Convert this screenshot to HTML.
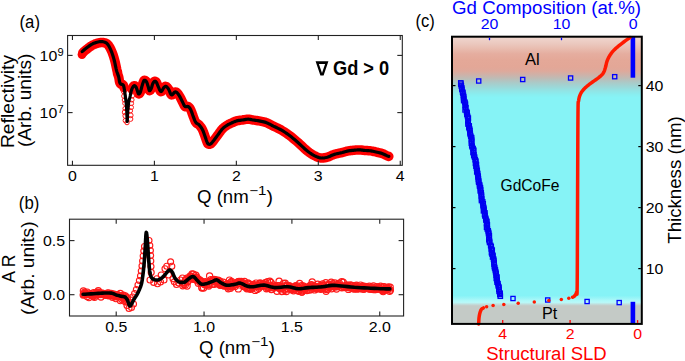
<!DOCTYPE html><html><head><meta charset="utf-8"><style>html,body{margin:0;padding:0;background:#fff;}svg{display:block;} text{font-family:"Liberation Sans", sans-serif;}</style></head><body>
<svg width="685" height="361" viewBox="0 0 685 361">
<rect width="685" height="361" fill="#fff"/>
<defs><linearGradient id="bg" gradientUnits="userSpaceOnUse" x1="0" y1="36.70" x2="0" y2="323.90"><stop offset="0.0000" stop-color="#f0d8d0"/><stop offset="0.0080" stop-color="#eed2ca"/><stop offset="0.0254" stop-color="#ebc8be"/><stop offset="0.0428" stop-color="#e8bbae"/><stop offset="0.0602" stop-color="#e5ad9f"/><stop offset="0.0811" stop-color="#e4a898"/><stop offset="0.1055" stop-color="#e3a797"/><stop offset="0.1194" stop-color="#dea99b"/><stop offset="0.1334" stop-color="#cdb2a9"/><stop offset="0.1455" stop-color="#bdbcb6"/><stop offset="0.1588" stop-color="#acc9c7"/><stop offset="0.1734" stop-color="#9ed6d6"/><stop offset="0.1873" stop-color="#92e3e4"/><stop offset="0.2013" stop-color="#89eef0"/><stop offset="0.2117" stop-color="#86f3f6"/><stop offset="0.9011" stop-color="#86f3f6"/><stop offset="0.9098" stop-color="#98f5f7"/><stop offset="0.9168" stop-color="#aaf8f8"/><stop offset="0.9248" stop-color="#b8fafa"/><stop offset="0.9290" stop-color="#bde9e8"/><stop offset="0.9325" stop-color="#c2dad8"/><stop offset="0.9363" stop-color="#c4cdca"/><stop offset="0.9394" stop-color="#c4cac6"/><stop offset="1.0000" stop-color="#c4cac6"/></linearGradient></defs>
<polyline points="82.90,52.50 83.40,52.06 84.10,51.45 84.94,50.72 85.86,49.95 86.80,49.20 87.80,48.43 88.88,47.60 90.02,46.77 91.17,45.98 92.30,45.30 93.42,44.73 94.55,44.22 95.67,43.78 96.76,43.41 97.80,43.10 98.77,42.85 99.70,42.67 100.59,42.56 101.45,42.50 102.30,42.50 103.14,42.56 103.96,42.68 104.76,42.85 105.51,43.09 106.20,43.40 106.81,43.73 107.34,44.09 107.83,44.53 108.34,45.11 108.90,45.90 109.53,46.92 110.20,48.13 110.89,49.50 111.56,50.97 112.20,52.50 112.80,54.12 113.38,55.85 113.95,57.66 114.49,59.52 115.00,61.40 115.48,63.37 115.92,65.45 116.35,67.53 116.77,69.52 117.20,71.30 117.66,72.86 117.44,73.35 117.91,74.63 118.34,75.84 118.70,77.00 118.96,78.15 119.14,79.25 119.28,80.29 119.42,81.21 119.60,82.00 119.81,82.63 120.03,83.13 120.27,83.52 120.52,83.84 120.80,84.10 121.12,84.27 121.47,84.32 121.83,84.34 122.18,84.37 122.50,84.50 122.78,84.69 123.03,84.89 123.27,85.16 123.49,85.54 123.70,86.10 123.90,86.87 124.09,87.82" fill="none" stroke="#ff0000" stroke-width="9.5" stroke-linejoin="round" stroke-linecap="round"/>
<polyline points="131.85,89.20 132.20,88.36 132.56,87.61 132.90,87.00 133.22,86.51 133.54,86.13 133.86,85.87 134.18,85.72 134.50,85.70 134.84,85.82 135.20,86.07 135.55,86.43 135.89,86.88 136.20,87.40 136.47,88.02 136.71,88.77 136.94,89.58 137.16,90.38 137.40,91.10 137.65,91.81 137.89,92.55 138.15,93.23 138.41,93.75 138.70,94.00 139.02,93.98 139.36,93.74 139.71,93.32 140.06,92.73 140.40,92.00 140.72,91.06 141.04,89.88 141.36,88.58 141.68,87.28 142.00,86.10 142.34,84.98 142.70,83.83 143.05,82.75 143.39,81.82 143.70,81.10 143.96,80.63 144.19,80.36 144.41,80.24 144.64,80.23 144.90,80.30 145.21,80.43 145.54,80.64 145.90,80.96 146.25,81.41 146.60,82.00 146.95,82.81 147.30,83.82 147.66,84.94 147.99,86.03 148.30,87.00 148.56,87.92 148.79,88.85 149.01,89.70 149.24,90.35 149.50,90.70 149.81,90.70 150.15,90.42 150.50,89.93 150.86,89.30 151.20,88.60 151.52,87.74 151.83,86.68 152.14,85.54 152.46,84.47 152.80,83.60 153.16,82.91 153.54,82.32 153.93,81.84 154.32,81.49 154.70,81.30 155.07,81.27 155.43,81.39 155.79,81.64 156.15,82.02 156.50,82.50 156.83,83.12 157.13,83.89 157.45,84.76 157.79,85.68 158.20,86.60 158.69,87.68 159.24,88.96 159.83,90.20 160.42,91.16 161.00,91.60 161.57,91.35 162.15,90.56 162.72,89.50 163.28,88.46 163.80,87.70 164.27,87.20 164.70,86.79 165.11,86.49 165.54,86.34 166.00,86.40 166.51,86.68 167.04,87.17 167.59,87.81 168.15,88.57 168.70,89.40 169.25,90.47 169.79,91.82 170.34,93.18 170.91,94.29 171.50,94.90 172.15,94.82 172.84,94.21 173.54,93.37 174.20,92.58 174.80,92.10 175.30,91.95 175.73,91.94 176.13,92.06 176.54,92.31 177.00,92.70 177.52,93.24 178.08,93.95 178.65,94.77 179.23,95.66 179.80,96.60 180.37,97.62 180.94,98.74 181.51,99.90 182.07,101.04 182.60,102.10 183.09,103.12 183.55,104.15 183.99,105.10 184.47,105.91 185.00,106.50 185.62,106.74 186.29,106.70 186.99,106.54 187.68,106.44 188.30,106.60 188.85,107.00 189.36,107.53 189.84,108.18 190.31,108.97 190.80,109.90 191.30,111.04 191.80,112.38 192.30,113.82 192.80,115.26 193.30,116.60 193.79,117.87 194.26,119.14 194.74,120.36 195.25,121.47 195.80,122.40 196.41,123.08 197.06,123.54 197.74,123.91 198.43,124.32 199.10,124.90 199.77,125.66 200.46,126.50 201.14,127.42 201.79,128.42 202.40,129.50 202.95,130.68 203.47,131.96 203.95,133.31 204.43,134.67 204.90,136.00 205.38,137.38 205.87,138.83 206.34,140.25 206.79,141.51 207.20,142.50 207.55,143.19 207.84,143.66 208.11,143.94 208.42,144.11 208.80,144.20 209.22,144.28 209.64,144.32 210.13,144.22 210.73,143.88 211.50,143.20 212.50,142.06 213.71,140.51 215.01,138.76 216.31,136.99 217.50,135.40 218.56,133.96 219.57,132.54 220.55,131.18 221.52,129.92 222.50,128.80 223.51,127.83 224.54,126.99 225.56,126.26 226.56,125.60 227.50,125.00 228.36,124.49 229.16,124.08 229.94,123.72 230.74,123.38 231.60,123.00 232.53,122.57 233.50,122.11 234.50,121.66 235.53,121.24 236.60,120.90 237.71,120.64 238.86,120.45 240.04,120.30 241.23,120.15 242.40,120.00 243.57,119.81 244.76,119.60 245.94,119.40 247.09,119.26 248.20,119.20 249.24,119.26 250.22,119.40 251.18,119.60 252.16,119.81 253.20,120.00 254.31,120.17 255.46,120.34 256.64,120.51 257.83,120.70 259.00,120.90 260.19,121.12 261.42,121.34 262.63,121.58 263.77,121.84 264.80,122.10 265.66,122.36 266.38,122.63 267.04,122.91 267.72,123.23 268.50,123.60 269.33,124.01 270.17,124.45 271.08,124.94 272.10,125.48 273.30,126.10 274.74,126.79 276.37,127.55 278.11,128.38 279.88,129.26 281.60,130.20 283.26,131.20 284.92,132.27 286.58,133.39 288.24,134.57 289.90,135.80 291.56,137.09 293.22,138.43 294.88,139.83 296.54,141.25 298.20,142.70 299.88,144.22 301.59,145.82 303.28,147.43 304.93,148.95 306.50,150.30 307.97,151.47 309.36,152.52 310.70,153.46 312.04,154.31 313.40,155.10 314.80,155.84 316.20,156.53 317.60,157.13 319.00,157.60 320.40,157.90 321.79,158.02 323.17,157.97 324.54,157.80 325.92,157.53 327.30,157.20 328.66,156.76 330.00,156.19 331.35,155.56 332.74,154.94 334.20,154.40 335.78,153.96 337.45,153.56 339.15,153.20 340.79,152.85 342.30,152.50 343.65,152.15 344.88,151.80 346.06,151.46 347.21,151.16 348.40,150.90 349.64,150.70 350.89,150.54 352.13,150.41 353.34,150.30 354.50,150.20 355.58,150.10 356.61,150.01 357.61,149.94 358.60,149.90 359.60,149.90 360.60,149.95 361.59,150.04 362.58,150.16 363.61,150.29 364.70,150.40 365.89,150.49 367.15,150.57 368.45,150.66 369.71,150.76 370.90,150.90 371.97,151.08 372.97,151.28 373.94,151.50 374.93,151.74 376.00,152.00 377.17,152.26 378.42,152.53 379.68,152.82 380.93,153.14 382.10,153.50 383.24,153.94 384.38,154.44 385.46,154.96 386.42,155.44 387.20,155.80 387.77,156.04 388.17,156.19 388.44,156.28 388.64,156.35 388.80,156.40" fill="none" stroke="#ff0000" stroke-width="9.5" stroke-linejoin="round" stroke-linecap="round"/>
<circle cx="82.0" cy="54.6" r="4.4" fill="#ff0000"/>
<circle cx="123.8" cy="91.4" r="2.5" fill="none" stroke="#ff1a1a" stroke-width="1.0"/>
<circle cx="123.9" cy="96.1" r="2.3" fill="none" stroke="#ff1a1a" stroke-width="1.0"/>
<circle cx="124.2" cy="100.0" r="2.0" fill="none" stroke="#ff1a1a" stroke-width="1.0"/>
<circle cx="124.8" cy="103.3" r="2.1" fill="none" stroke="#ff1a1a" stroke-width="1.0"/>
<circle cx="125.0" cy="108.5" r="2.1" fill="none" stroke="#ff1a1a" stroke-width="1.0"/>
<circle cx="125.0" cy="112.2" r="2.7" fill="none" stroke="#ff1a1a" stroke-width="1.0"/>
<circle cx="125.6" cy="115.8" r="2.7" fill="none" stroke="#ff1a1a" stroke-width="1.0"/>
<circle cx="125.3" cy="120.6" r="2.2" fill="none" stroke="#ff1a1a" stroke-width="1.0"/>
<circle cx="127.0" cy="122.6" r="2.2" fill="none" stroke="#ff1a1a" stroke-width="1.0"/>
<circle cx="130.5" cy="119.0" r="2.4" fill="none" stroke="#ff1a1a" stroke-width="1.0"/>
<circle cx="130.7" cy="115.3" r="2.4" fill="none" stroke="#ff1a1a" stroke-width="1.0"/>
<circle cx="130.5" cy="110.8" r="2.1" fill="none" stroke="#ff1a1a" stroke-width="1.0"/>
<circle cx="131.3" cy="107.4" r="2.2" fill="none" stroke="#ff1a1a" stroke-width="1.0"/>
<circle cx="131.4" cy="103.4" r="2.2" fill="none" stroke="#ff1a1a" stroke-width="1.0"/>
<circle cx="131.9" cy="99.8" r="2.2" fill="none" stroke="#ff1a1a" stroke-width="1.0"/>
<circle cx="132.1" cy="95.5" r="2.6" fill="none" stroke="#ff1a1a" stroke-width="1.0"/>
<circle cx="132.7" cy="91.2" r="2.7" fill="none" stroke="#ff1a1a" stroke-width="1.0"/>
<polyline points="82.20,51.60 82.70,51.16 83.40,50.55 84.24,49.82 85.16,49.05 86.10,48.30 87.10,47.53 88.18,46.70 89.32,45.87 90.47,45.08 91.60,44.40 92.72,43.83 93.85,43.32 94.97,42.88 96.06,42.51 97.10,42.20 98.07,41.95 99.00,41.77 99.89,41.66 100.75,41.60 101.60,41.60 102.44,41.66 103.26,41.78 104.06,41.95 104.81,42.19 105.50,42.50 106.11,42.83 106.64,43.19 107.13,43.63 107.64,44.21 108.20,45.00 108.83,46.02 109.50,47.23 110.19,48.60 110.86,50.07 111.50,51.60 112.10,53.22 112.68,54.95 113.25,56.76 113.79,58.62 114.30,60.50 114.78,62.47 115.22,64.55 115.65,66.63 116.07,68.62 116.50,70.40 116.96,71.96 117.44,73.35 117.91,74.63 118.34,75.84 118.70,77.00 118.96,78.15 119.14,79.25 119.28,80.29 119.42,81.21 119.60,82.00 119.81,82.63 120.03,83.13 120.27,83.52 120.52,83.84 120.80,84.10 121.12,84.27 121.47,84.32 121.83,84.34 122.18,84.37 122.50,84.50 122.78,84.69 123.03,84.89 123.27,85.16 123.49,85.54 123.70,86.10 123.90,86.87 124.09,87.82 124.26,88.88 124.43,89.99 124.60,91.10 124.77,92.20 124.93,93.35 125.08,94.52 125.24,95.71 125.40,96.90 125.56,98.05 125.73,99.18 125.89,100.34 126.05,101.59 126.20,103.00 126.34,104.61 126.46,106.37 126.58,108.22 126.70,110.12 126.80,112.00 126.89,114.17 126.97,116.68 127.04,119.04 127.12,120.81 127.20,121.50 127.29,120.82 127.37,119.09 127.46,116.75 127.57,114.24 127.70,112.00 127.86,109.95 128.05,107.80 128.25,105.67 128.47,103.69 128.70,102.00 128.94,100.68 129.20,99.64 129.47,98.76 129.74,97.89 130.00,96.90 130.24,95.76 130.46,94.55 130.69,93.33 130.93,92.16 131.20,91.10 131.51,90.13 131.85,89.20 132.20,88.36 132.56,87.61 132.90,87.00 133.22,86.51 133.54,86.13 133.86,85.87 134.18,85.72 134.50,85.70 134.84,85.82 135.20,86.07 135.55,86.43 135.89,86.88 136.20,87.40 136.47,88.02 136.71,88.77 136.94,89.58 137.16,90.38 137.40,91.10 137.65,91.81 137.89,92.55 138.15,93.23 138.41,93.75 138.70,94.00 139.02,93.98 139.36,93.74 139.71,93.32 140.06,92.73 140.40,92.00 140.72,91.06 141.04,89.88 141.36,88.58 141.68,87.28 142.00,86.10 142.34,84.98 142.70,83.83 143.05,82.75 143.39,81.82 143.70,81.10 143.96,80.63 144.19,80.36 144.41,80.24 144.64,80.23 144.90,80.30 145.21,80.43 145.54,80.64 145.90,80.96 146.25,81.41 146.60,82.00 146.95,82.81 147.30,83.82 147.66,84.94 147.99,86.03 148.30,87.00 148.56,87.92 148.79,88.85 149.01,89.70 149.24,90.35 149.50,90.70 149.81,90.70 150.15,90.42 150.50,89.93 150.86,89.30 151.20,88.60 151.52,87.74 151.83,86.68 152.14,85.54 152.46,84.47 152.80,83.60 153.16,82.91 153.54,82.32 153.93,81.84 154.32,81.49 154.70,81.30 155.07,81.27 155.43,81.39 155.79,81.64 156.15,82.02 156.50,82.50 156.83,83.12 157.13,83.89 157.45,84.76 157.79,85.68 158.20,86.60 158.69,87.68 159.24,88.96 159.83,90.20 160.42,91.16 161.00,91.60 161.57,91.35 162.15,90.56 162.72,89.50 163.28,88.46 163.80,87.70 164.27,87.20 164.70,86.79 165.11,86.49 165.54,86.34 166.00,86.40 166.51,86.68 167.04,87.17 167.59,87.81 168.15,88.57 168.70,89.40 169.25,90.47 169.79,91.82 170.34,93.18 170.91,94.29 171.50,94.90 172.15,94.82 172.84,94.21 173.54,93.37 174.20,92.58 174.80,92.10 175.30,91.95 175.73,91.94 176.13,92.06 176.54,92.31 177.00,92.70 177.52,93.24 178.08,93.95 178.65,94.77 179.23,95.66 179.80,96.60 180.37,97.62 180.94,98.74 181.51,99.90 182.07,101.04 182.60,102.10 183.09,103.12 183.55,104.15 183.99,105.10 184.47,105.91 185.00,106.50 185.62,106.74 186.29,106.70 186.99,106.54 187.68,106.44 188.30,106.60 188.85,107.00 189.36,107.53 189.84,108.18 190.31,108.97 190.80,109.90 191.30,111.04 191.80,112.38 192.30,113.82 192.80,115.26 193.30,116.60 193.79,117.87 194.26,119.14 194.74,120.36 195.25,121.47 195.80,122.40 196.41,123.08 197.06,123.54 197.74,123.91 198.43,124.32 199.10,124.90 199.77,125.66 200.46,126.50 201.14,127.42 201.79,128.42 202.40,129.50 202.95,130.68 203.47,131.96 203.95,133.31 204.43,134.67 204.90,136.00 205.38,137.38 205.87,138.83 206.34,140.25 206.79,141.51 207.20,142.50 207.55,143.19 207.84,143.66 208.11,143.94 208.42,144.11 208.80,144.20 209.22,144.28 209.64,144.32 210.13,144.22 210.73,143.88 211.50,143.20 212.50,142.06 213.71,140.51 215.01,138.76 216.31,136.99 217.50,135.40 218.56,133.96 219.57,132.54 220.55,131.18 221.52,129.92 222.50,128.80 223.51,127.83 224.54,126.99 225.56,126.26 226.56,125.60 227.50,125.00 228.36,124.49 229.16,124.08 229.94,123.72 230.74,123.38 231.60,123.00 232.53,122.57 233.50,122.11 234.50,121.66 235.53,121.24 236.60,120.90 237.71,120.64 238.86,120.45 240.04,120.30 241.23,120.15 242.40,120.00 243.57,119.81 244.76,119.60 245.94,119.40 247.09,119.26 248.20,119.20 249.24,119.26 250.22,119.40 251.18,119.60 252.16,119.81 253.20,120.00 254.31,120.17 255.46,120.34 256.64,120.51 257.83,120.70 259.00,120.90 260.19,121.12 261.42,121.34 262.63,121.58 263.77,121.84 264.80,122.10 265.66,122.36 266.38,122.63 267.04,122.91 267.72,123.23 268.50,123.60 269.33,124.01 270.17,124.45 271.08,124.94 272.10,125.48 273.30,126.10 274.74,126.79 276.37,127.55 278.11,128.38 279.88,129.26 281.60,130.20 283.26,131.20 284.92,132.27 286.58,133.39 288.24,134.57 289.90,135.80 291.56,137.09 293.22,138.43 294.88,139.83 296.54,141.25 298.20,142.70 299.88,144.22 301.59,145.82 303.28,147.43 304.93,148.95 306.50,150.30 307.97,151.47 309.36,152.52 310.70,153.46 312.04,154.31 313.40,155.10 314.80,155.84 316.20,156.53 317.60,157.13 319.00,157.60 320.40,157.90 321.79,158.02 323.17,157.97 324.54,157.80 325.92,157.53 327.30,157.20 328.66,156.76 330.00,156.19 331.35,155.56 332.74,154.94 334.20,154.40 335.78,153.96 337.45,153.56 339.15,153.20 340.79,152.85 342.30,152.50 343.65,152.15 344.88,151.80 346.06,151.46 347.21,151.16 348.40,150.90 349.64,150.70 350.89,150.54 352.13,150.41 353.34,150.30 354.50,150.20 355.58,150.10 356.61,150.01 357.61,149.94 358.60,149.90 359.60,149.90 360.60,149.95 361.59,150.04 362.58,150.16 363.61,150.29 364.70,150.40 365.89,150.49 367.15,150.57 368.45,150.66 369.71,150.76 370.90,150.90 371.97,151.08 372.97,151.28 373.94,151.50 374.93,151.74 376.00,152.00 377.17,152.26 378.42,152.53 379.68,152.82 380.93,153.14 382.10,153.50 383.24,153.94 384.38,154.44 385.46,154.96 386.42,155.44 387.20,155.80 387.77,156.04 388.17,156.19 388.44,156.28 388.64,156.35 388.80,156.40" fill="none" stroke="#000" stroke-width="3.2" stroke-linejoin="round" stroke-linecap="round"/>
<rect x="67.6" y="35.5" width="334.70" height="129.80" fill="none" stroke="#222" stroke-width="1.1"/>
<line x1="72.45" y1="165.30" x2="72.45" y2="160.80" stroke="#222" stroke-width="1.1"/>
<line x1="72.45" y1="35.50" x2="72.45" y2="40.00" stroke="#222" stroke-width="1.1"/>
<text x="72.45" y="180.50" font-size="14.72" text-anchor="middle" fill="#000" textLength="8.83" lengthAdjust="spacingAndGlyphs">0</text>
<line x1="154.40" y1="165.30" x2="154.40" y2="160.80" stroke="#222" stroke-width="1.1"/>
<line x1="154.40" y1="35.50" x2="154.40" y2="40.00" stroke="#222" stroke-width="1.1"/>
<text x="154.40" y="180.50" font-size="14.72" text-anchor="middle" fill="#000" textLength="8.83" lengthAdjust="spacingAndGlyphs">1</text>
<line x1="236.35" y1="165.30" x2="236.35" y2="160.80" stroke="#222" stroke-width="1.1"/>
<line x1="236.35" y1="35.50" x2="236.35" y2="40.00" stroke="#222" stroke-width="1.1"/>
<text x="236.35" y="180.50" font-size="14.72" text-anchor="middle" fill="#000" textLength="8.83" lengthAdjust="spacingAndGlyphs">2</text>
<line x1="318.30" y1="165.30" x2="318.30" y2="160.80" stroke="#222" stroke-width="1.1"/>
<line x1="318.30" y1="35.50" x2="318.30" y2="40.00" stroke="#222" stroke-width="1.1"/>
<text x="318.30" y="180.50" font-size="14.72" text-anchor="middle" fill="#000" textLength="8.83" lengthAdjust="spacingAndGlyphs">3</text>
<line x1="400.25" y1="165.30" x2="400.25" y2="160.80" stroke="#222" stroke-width="1.1"/>
<line x1="400.25" y1="35.50" x2="400.25" y2="40.00" stroke="#222" stroke-width="1.1"/>
<text x="400.25" y="180.50" font-size="14.72" text-anchor="middle" fill="#000" textLength="8.83" lengthAdjust="spacingAndGlyphs">4</text>
<line x1="67.60" y1="55.40" x2="72.60" y2="55.40" stroke="#222" stroke-width="1.1"/>
<line x1="402.30" y1="55.40" x2="397.30" y2="55.40" stroke="#222" stroke-width="1.1"/>
<line x1="67.60" y1="112.60" x2="72.60" y2="112.60" stroke="#222" stroke-width="1.1"/>
<line x1="402.30" y1="112.60" x2="397.30" y2="112.60" stroke="#222" stroke-width="1.1"/>
<text x="39.60" y="61.20" font-size="14.72" text-anchor="start" fill="#000" textLength="17.67" lengthAdjust="spacingAndGlyphs">10</text>
<text x="57.60" y="55.60" font-size="10.31" text-anchor="start" fill="#000" textLength="6.18" lengthAdjust="spacingAndGlyphs">9</text>
<text x="39.60" y="118.40" font-size="14.72" text-anchor="start" fill="#000" textLength="17.67" lengthAdjust="spacingAndGlyphs">10</text>
<text x="57.60" y="112.80" font-size="10.31" text-anchor="start" fill="#000" textLength="6.18" lengthAdjust="spacingAndGlyphs">7</text>
<text x="197.00" y="202.80" font-size="17.67" text-anchor="start" fill="#000" textLength="51.73" lengthAdjust="spacingAndGlyphs">Q (nm</text>
<text x="249.30" y="195.00" font-size="12.37" text-anchor="start" fill="#000" textLength="17.20" lengthAdjust="spacingAndGlyphs">&#8722;1</text>
<text x="266.50" y="202.80" font-size="17.67" text-anchor="start" fill="#000" textLength="6.50" lengthAdjust="spacingAndGlyphs">)</text>
<text x="13.90" y="101.50" font-size="17.67" text-anchor="middle" fill="#000" textLength="93.09" lengthAdjust="spacingAndGlyphs" transform="rotate(-90 13.90 101.50)">Reflectivity</text>
<text x="30.80" y="100.30" font-size="17.67" text-anchor="middle" fill="#000" textLength="93.44" lengthAdjust="spacingAndGlyphs" transform="rotate(-90 30.80 100.30)">(Arb. units)</text>
<text x="19.50" y="27.90" font-size="17.50" text-anchor="start" fill="#000" textLength="20.50" lengthAdjust="spacingAndGlyphs">(a)</text>
<path d="M315.6,61.3 L328.4,61.3 L323.6,75.4 L320.4,75.4 Z M318.9,63.9 L325.1,63.9 L322.0,73.0 Z" fill="#000" fill-rule="evenodd"/>
<text x="333.00" y="74.90" font-size="19.80" text-anchor="start" fill="#000" font-weight="bold" textLength="56.20" lengthAdjust="spacingAndGlyphs">Gd &gt; 0</text>
<circle cx="123.5" cy="299.0" r="3.0" fill="none" stroke="#ff1a1a" stroke-width="1.15"/>
<circle cx="125.5" cy="302.0" r="3.0" fill="none" stroke="#ff1a1a" stroke-width="1.15"/>
<circle cx="127.0" cy="305.5" r="3.0" fill="none" stroke="#ff1a1a" stroke-width="1.15"/>
<circle cx="129.0" cy="308.5" r="3.0" fill="none" stroke="#ff1a1a" stroke-width="1.15"/>
<circle cx="131.5" cy="307.5" r="3.0" fill="none" stroke="#ff1a1a" stroke-width="1.15"/>
<circle cx="133.5" cy="304.0" r="3.0" fill="none" stroke="#ff1a1a" stroke-width="1.15"/>
<circle cx="128.0" cy="302.5" r="3.0" fill="none" stroke="#ff1a1a" stroke-width="1.15"/>
<circle cx="130.5" cy="300.0" r="3.0" fill="none" stroke="#ff1a1a" stroke-width="1.15"/>
<circle cx="132.6" cy="297.0" r="3.0" fill="none" stroke="#ff1a1a" stroke-width="1.15"/>
<circle cx="134.6" cy="293.5" r="3.0" fill="none" stroke="#ff1a1a" stroke-width="1.15"/>
<circle cx="136.4" cy="289.5" r="3.0" fill="none" stroke="#ff1a1a" stroke-width="1.15"/>
<circle cx="138.0" cy="285.0" r="3.0" fill="none" stroke="#ff1a1a" stroke-width="1.15"/>
<circle cx="139.4" cy="280.5" r="3.0" fill="none" stroke="#ff1a1a" stroke-width="1.15"/>
<circle cx="140.5" cy="276.0" r="3.0" fill="none" stroke="#ff1a1a" stroke-width="1.15"/>
<circle cx="141.3" cy="271.0" r="3.0" fill="none" stroke="#ff1a1a" stroke-width="1.15"/>
<circle cx="142.0" cy="266.0" r="3.0" fill="none" stroke="#ff1a1a" stroke-width="1.15"/>
<circle cx="142.6" cy="261.0" r="3.0" fill="none" stroke="#ff1a1a" stroke-width="1.15"/>
<circle cx="143.2" cy="256.0" r="3.0" fill="none" stroke="#ff1a1a" stroke-width="1.15"/>
<circle cx="143.8" cy="251.0" r="3.0" fill="none" stroke="#ff1a1a" stroke-width="1.15"/>
<circle cx="144.5" cy="246.5" r="3.0" fill="none" stroke="#ff1a1a" stroke-width="1.15"/>
<circle cx="149.0" cy="240.5" r="3.0" fill="none" stroke="#ff1a1a" stroke-width="1.15"/>
<circle cx="149.8" cy="245.5" r="3.0" fill="none" stroke="#ff1a1a" stroke-width="1.15"/>
<circle cx="150.4" cy="250.5" r="3.0" fill="none" stroke="#ff1a1a" stroke-width="1.15"/>
<circle cx="150.6" cy="255.5" r="3.0" fill="none" stroke="#ff1a1a" stroke-width="1.15"/>
<circle cx="150.8" cy="261.0" r="3.0" fill="none" stroke="#ff1a1a" stroke-width="1.15"/>
<circle cx="151.0" cy="266.5" r="3.0" fill="none" stroke="#ff1a1a" stroke-width="1.15"/>
<circle cx="151.2" cy="272.4" r="3.0" fill="none" stroke="#ff1a1a" stroke-width="1.15"/>
<circle cx="150.0" cy="280.0" r="3.0" fill="none" stroke="#ff1a1a" stroke-width="1.15"/>
<circle cx="153.7" cy="282.4" r="3.0" fill="none" stroke="#ff1a1a" stroke-width="1.15"/>
<circle cx="157.5" cy="283.7" r="3.0" fill="none" stroke="#ff1a1a" stroke-width="1.15"/>
<circle cx="156.8" cy="278.7" r="3.0" fill="none" stroke="#ff1a1a" stroke-width="1.15"/>
<circle cx="161.2" cy="275.0" r="3.0" fill="none" stroke="#ff1a1a" stroke-width="1.15"/>
<circle cx="160.5" cy="282.0" r="3.0" fill="none" stroke="#ff1a1a" stroke-width="1.15"/>
<circle cx="164.0" cy="280.0" r="3.0" fill="none" stroke="#ff1a1a" stroke-width="1.15"/>
<circle cx="165.0" cy="268.7" r="3.0" fill="none" stroke="#ff1a1a" stroke-width="1.15"/>
<circle cx="166.8" cy="266.2" r="3.0" fill="none" stroke="#ff1a1a" stroke-width="1.15"/>
<circle cx="170.6" cy="261.8" r="3.0" fill="none" stroke="#ff1a1a" stroke-width="1.15"/>
<circle cx="171.8" cy="266.2" r="3.0" fill="none" stroke="#ff1a1a" stroke-width="1.15"/>
<circle cx="168.5" cy="275.0" r="3.0" fill="none" stroke="#ff1a1a" stroke-width="1.15"/>
<circle cx="173.0" cy="278.7" r="3.0" fill="none" stroke="#ff1a1a" stroke-width="1.15"/>
<circle cx="174.3" cy="281.8" r="3.0" fill="none" stroke="#ff1a1a" stroke-width="1.15"/>
<circle cx="176.5" cy="284.5" r="3.0" fill="none" stroke="#ff1a1a" stroke-width="1.15"/>
<circle cx="178.7" cy="283.0" r="3.0" fill="none" stroke="#ff1a1a" stroke-width="1.15"/>
<circle cx="180.5" cy="280.0" r="3.0" fill="none" stroke="#ff1a1a" stroke-width="1.15"/>
<circle cx="182.4" cy="278.0" r="3.0" fill="none" stroke="#ff1a1a" stroke-width="1.15"/>
<circle cx="83.4" cy="290.9" r="3.1" fill="none" stroke="#ff1a1a" stroke-width="1.15"/>
<circle cx="83.2" cy="295.1" r="3.1" fill="none" stroke="#ff1a1a" stroke-width="1.15"/>
<circle cx="84.1" cy="294.6" r="3.1" fill="none" stroke="#ff1a1a" stroke-width="1.15"/>
<circle cx="83.8" cy="293.8" r="3.1" fill="none" stroke="#ff1a1a" stroke-width="1.15"/>
<circle cx="84.7" cy="292.2" r="3.1" fill="none" stroke="#ff1a1a" stroke-width="1.15"/>
<circle cx="86.6" cy="294.1" r="3.1" fill="none" stroke="#ff1a1a" stroke-width="1.15"/>
<circle cx="85.9" cy="293.3" r="3.1" fill="none" stroke="#ff1a1a" stroke-width="1.15"/>
<circle cx="87.2" cy="292.1" r="3.1" fill="none" stroke="#ff1a1a" stroke-width="1.15"/>
<circle cx="87.2" cy="296.5" r="3.1" fill="none" stroke="#ff1a1a" stroke-width="1.15"/>
<circle cx="87.8" cy="294.6" r="3.1" fill="none" stroke="#ff1a1a" stroke-width="1.15"/>
<circle cx="87.7" cy="294.2" r="3.1" fill="none" stroke="#ff1a1a" stroke-width="1.15"/>
<circle cx="89.0" cy="297.6" r="3.1" fill="none" stroke="#ff1a1a" stroke-width="1.15"/>
<circle cx="90.2" cy="294.4" r="3.1" fill="none" stroke="#ff1a1a" stroke-width="1.15"/>
<circle cx="90.0" cy="294.6" r="3.1" fill="none" stroke="#ff1a1a" stroke-width="1.15"/>
<circle cx="90.8" cy="293.8" r="3.1" fill="none" stroke="#ff1a1a" stroke-width="1.15"/>
<circle cx="91.4" cy="295.0" r="3.1" fill="none" stroke="#ff1a1a" stroke-width="1.15"/>
<circle cx="91.5" cy="294.7" r="3.1" fill="none" stroke="#ff1a1a" stroke-width="1.15"/>
<circle cx="92.9" cy="294.6" r="3.1" fill="none" stroke="#ff1a1a" stroke-width="1.15"/>
<circle cx="92.7" cy="295.0" r="3.1" fill="none" stroke="#ff1a1a" stroke-width="1.15"/>
<circle cx="93.7" cy="292.7" r="3.1" fill="none" stroke="#ff1a1a" stroke-width="1.15"/>
<circle cx="93.3" cy="296.5" r="3.1" fill="none" stroke="#ff1a1a" stroke-width="1.15"/>
<circle cx="94.2" cy="295.2" r="3.1" fill="none" stroke="#ff1a1a" stroke-width="1.15"/>
<circle cx="95.4" cy="293.2" r="3.1" fill="none" stroke="#ff1a1a" stroke-width="1.15"/>
<circle cx="94.6" cy="297.2" r="3.1" fill="none" stroke="#ff1a1a" stroke-width="1.15"/>
<circle cx="96.5" cy="294.9" r="3.1" fill="none" stroke="#ff1a1a" stroke-width="1.15"/>
<circle cx="97.2" cy="294.4" r="3.1" fill="none" stroke="#ff1a1a" stroke-width="1.15"/>
<circle cx="97.4" cy="292.2" r="3.1" fill="none" stroke="#ff1a1a" stroke-width="1.15"/>
<circle cx="97.9" cy="294.2" r="3.1" fill="none" stroke="#ff1a1a" stroke-width="1.15"/>
<circle cx="98.7" cy="292.9" r="3.1" fill="none" stroke="#ff1a1a" stroke-width="1.15"/>
<circle cx="98.3" cy="290.7" r="3.1" fill="none" stroke="#ff1a1a" stroke-width="1.15"/>
<circle cx="98.8" cy="293.4" r="3.1" fill="none" stroke="#ff1a1a" stroke-width="1.15"/>
<circle cx="99.4" cy="292.4" r="3.1" fill="none" stroke="#ff1a1a" stroke-width="1.15"/>
<circle cx="101.0" cy="297.0" r="3.1" fill="none" stroke="#ff1a1a" stroke-width="1.15"/>
<circle cx="99.9" cy="294.5" r="3.1" fill="none" stroke="#ff1a1a" stroke-width="1.15"/>
<circle cx="101.1" cy="294.4" r="3.1" fill="none" stroke="#ff1a1a" stroke-width="1.15"/>
<circle cx="102.4" cy="293.3" r="3.1" fill="none" stroke="#ff1a1a" stroke-width="1.15"/>
<circle cx="102.6" cy="293.5" r="3.1" fill="none" stroke="#ff1a1a" stroke-width="1.15"/>
<circle cx="103.5" cy="294.8" r="3.1" fill="none" stroke="#ff1a1a" stroke-width="1.15"/>
<circle cx="104.4" cy="294.6" r="3.1" fill="none" stroke="#ff1a1a" stroke-width="1.15"/>
<circle cx="104.5" cy="293.9" r="3.1" fill="none" stroke="#ff1a1a" stroke-width="1.15"/>
<circle cx="105.2" cy="294.2" r="3.1" fill="none" stroke="#ff1a1a" stroke-width="1.15"/>
<circle cx="105.7" cy="293.6" r="3.1" fill="none" stroke="#ff1a1a" stroke-width="1.15"/>
<circle cx="105.5" cy="295.2" r="3.1" fill="none" stroke="#ff1a1a" stroke-width="1.15"/>
<circle cx="107.0" cy="294.4" r="3.1" fill="none" stroke="#ff1a1a" stroke-width="1.15"/>
<circle cx="107.7" cy="292.9" r="3.1" fill="none" stroke="#ff1a1a" stroke-width="1.15"/>
<circle cx="108.6" cy="295.8" r="3.1" fill="none" stroke="#ff1a1a" stroke-width="1.15"/>
<circle cx="108.3" cy="295.4" r="3.1" fill="none" stroke="#ff1a1a" stroke-width="1.15"/>
<circle cx="108.9" cy="293.1" r="3.1" fill="none" stroke="#ff1a1a" stroke-width="1.15"/>
<circle cx="109.7" cy="294.9" r="3.1" fill="none" stroke="#ff1a1a" stroke-width="1.15"/>
<circle cx="111.1" cy="293.5" r="3.1" fill="none" stroke="#ff1a1a" stroke-width="1.15"/>
<circle cx="110.6" cy="294.0" r="3.1" fill="none" stroke="#ff1a1a" stroke-width="1.15"/>
<circle cx="110.8" cy="295.6" r="3.1" fill="none" stroke="#ff1a1a" stroke-width="1.15"/>
<circle cx="112.2" cy="295.1" r="3.1" fill="none" stroke="#ff1a1a" stroke-width="1.15"/>
<circle cx="112.3" cy="295.9" r="3.1" fill="none" stroke="#ff1a1a" stroke-width="1.15"/>
<circle cx="112.5" cy="297.2" r="3.1" fill="none" stroke="#ff1a1a" stroke-width="1.15"/>
<circle cx="112.8" cy="294.1" r="3.1" fill="none" stroke="#ff1a1a" stroke-width="1.15"/>
<circle cx="114.1" cy="294.1" r="3.1" fill="none" stroke="#ff1a1a" stroke-width="1.15"/>
<circle cx="113.6" cy="295.2" r="3.1" fill="none" stroke="#ff1a1a" stroke-width="1.15"/>
<circle cx="114.4" cy="295.5" r="3.1" fill="none" stroke="#ff1a1a" stroke-width="1.15"/>
<circle cx="116.5" cy="295.9" r="3.1" fill="none" stroke="#ff1a1a" stroke-width="1.15"/>
<circle cx="115.9" cy="298.6" r="3.1" fill="none" stroke="#ff1a1a" stroke-width="1.15"/>
<circle cx="115.5" cy="296.8" r="3.1" fill="none" stroke="#ff1a1a" stroke-width="1.15"/>
<circle cx="116.7" cy="295.9" r="3.1" fill="none" stroke="#ff1a1a" stroke-width="1.15"/>
<circle cx="117.6" cy="294.7" r="3.1" fill="none" stroke="#ff1a1a" stroke-width="1.15"/>
<circle cx="118.2" cy="296.6" r="3.1" fill="none" stroke="#ff1a1a" stroke-width="1.15"/>
<circle cx="119.2" cy="296.2" r="3.1" fill="none" stroke="#ff1a1a" stroke-width="1.15"/>
<circle cx="117.9" cy="295.2" r="3.1" fill="none" stroke="#ff1a1a" stroke-width="1.15"/>
<circle cx="120.3" cy="293.4" r="3.1" fill="none" stroke="#ff1a1a" stroke-width="1.15"/>
<circle cx="120.3" cy="300.6" r="3.1" fill="none" stroke="#ff1a1a" stroke-width="1.15"/>
<circle cx="121.3" cy="296.3" r="3.1" fill="none" stroke="#ff1a1a" stroke-width="1.15"/>
<circle cx="121.9" cy="297.2" r="3.1" fill="none" stroke="#ff1a1a" stroke-width="1.15"/>
<circle cx="122.9" cy="297.8" r="3.1" fill="none" stroke="#ff1a1a" stroke-width="1.15"/>
<circle cx="121.9" cy="299.6" r="3.1" fill="none" stroke="#ff1a1a" stroke-width="1.15"/>
<circle cx="123.3" cy="295.1" r="3.1" fill="none" stroke="#ff1a1a" stroke-width="1.15"/>
<circle cx="123.5" cy="297.6" r="3.1" fill="none" stroke="#ff1a1a" stroke-width="1.15"/>
<circle cx="123.1" cy="295.8" r="3.1" fill="none" stroke="#ff1a1a" stroke-width="1.15"/>
<circle cx="123.8" cy="298.3" r="3.1" fill="none" stroke="#ff1a1a" stroke-width="1.15"/>
<circle cx="125.4" cy="296.0" r="3.1" fill="none" stroke="#ff1a1a" stroke-width="1.15"/>
<circle cx="125.4" cy="298.3" r="3.1" fill="none" stroke="#ff1a1a" stroke-width="1.15"/>
<circle cx="124.9" cy="300.3" r="3.1" fill="none" stroke="#ff1a1a" stroke-width="1.15"/>
<circle cx="127.4" cy="297.6" r="3.1" fill="none" stroke="#ff1a1a" stroke-width="1.15"/>
<circle cx="182.8" cy="285.8" r="3.1" fill="none" stroke="#ff1a1a" stroke-width="1.15"/>
<circle cx="183.9" cy="283.0" r="3.1" fill="none" stroke="#ff1a1a" stroke-width="1.15"/>
<circle cx="185.3" cy="285.1" r="3.1" fill="none" stroke="#ff1a1a" stroke-width="1.15"/>
<circle cx="184.4" cy="282.5" r="3.1" fill="none" stroke="#ff1a1a" stroke-width="1.15"/>
<circle cx="183.8" cy="284.6" r="3.1" fill="none" stroke="#ff1a1a" stroke-width="1.15"/>
<circle cx="185.4" cy="280.2" r="3.1" fill="none" stroke="#ff1a1a" stroke-width="1.15"/>
<circle cx="186.3" cy="279.7" r="3.1" fill="none" stroke="#ff1a1a" stroke-width="1.15"/>
<circle cx="187.1" cy="286.1" r="3.1" fill="none" stroke="#ff1a1a" stroke-width="1.15"/>
<circle cx="186.9" cy="278.2" r="3.1" fill="none" stroke="#ff1a1a" stroke-width="1.15"/>
<circle cx="187.8" cy="281.5" r="3.1" fill="none" stroke="#ff1a1a" stroke-width="1.15"/>
<circle cx="187.8" cy="281.7" r="3.1" fill="none" stroke="#ff1a1a" stroke-width="1.15"/>
<circle cx="189.6" cy="278.9" r="3.1" fill="none" stroke="#ff1a1a" stroke-width="1.15"/>
<circle cx="190.1" cy="277.6" r="3.1" fill="none" stroke="#ff1a1a" stroke-width="1.15"/>
<circle cx="190.0" cy="276.2" r="3.1" fill="none" stroke="#ff1a1a" stroke-width="1.15"/>
<circle cx="191.0" cy="276.3" r="3.1" fill="none" stroke="#ff1a1a" stroke-width="1.15"/>
<circle cx="191.0" cy="278.7" r="3.1" fill="none" stroke="#ff1a1a" stroke-width="1.15"/>
<circle cx="192.1" cy="273.9" r="3.1" fill="none" stroke="#ff1a1a" stroke-width="1.15"/>
<circle cx="192.1" cy="278.4" r="3.1" fill="none" stroke="#ff1a1a" stroke-width="1.15"/>
<circle cx="192.7" cy="278.8" r="3.1" fill="none" stroke="#ff1a1a" stroke-width="1.15"/>
<circle cx="193.4" cy="274.1" r="3.1" fill="none" stroke="#ff1a1a" stroke-width="1.15"/>
<circle cx="194.2" cy="279.4" r="3.1" fill="none" stroke="#ff1a1a" stroke-width="1.15"/>
<circle cx="194.7" cy="277.6" r="3.1" fill="none" stroke="#ff1a1a" stroke-width="1.15"/>
<circle cx="194.8" cy="278.5" r="3.1" fill="none" stroke="#ff1a1a" stroke-width="1.15"/>
<circle cx="195.9" cy="275.3" r="3.1" fill="none" stroke="#ff1a1a" stroke-width="1.15"/>
<circle cx="196.1" cy="277.6" r="3.1" fill="none" stroke="#ff1a1a" stroke-width="1.15"/>
<circle cx="196.8" cy="277.2" r="3.1" fill="none" stroke="#ff1a1a" stroke-width="1.15"/>
<circle cx="197.1" cy="280.8" r="3.1" fill="none" stroke="#ff1a1a" stroke-width="1.15"/>
<circle cx="197.8" cy="279.6" r="3.1" fill="none" stroke="#ff1a1a" stroke-width="1.15"/>
<circle cx="199.5" cy="281.1" r="3.1" fill="none" stroke="#ff1a1a" stroke-width="1.15"/>
<circle cx="199.0" cy="279.5" r="3.1" fill="none" stroke="#ff1a1a" stroke-width="1.15"/>
<circle cx="198.3" cy="283.2" r="3.1" fill="none" stroke="#ff1a1a" stroke-width="1.15"/>
<circle cx="200.4" cy="280.5" r="3.1" fill="none" stroke="#ff1a1a" stroke-width="1.15"/>
<circle cx="200.7" cy="281.1" r="3.1" fill="none" stroke="#ff1a1a" stroke-width="1.15"/>
<circle cx="200.6" cy="283.1" r="3.1" fill="none" stroke="#ff1a1a" stroke-width="1.15"/>
<circle cx="201.7" cy="281.7" r="3.1" fill="none" stroke="#ff1a1a" stroke-width="1.15"/>
<circle cx="202.0" cy="287.4" r="3.1" fill="none" stroke="#ff1a1a" stroke-width="1.15"/>
<circle cx="201.9" cy="288.0" r="3.1" fill="none" stroke="#ff1a1a" stroke-width="1.15"/>
<circle cx="204.2" cy="284.0" r="3.1" fill="none" stroke="#ff1a1a" stroke-width="1.15"/>
<circle cx="203.6" cy="288.1" r="3.1" fill="none" stroke="#ff1a1a" stroke-width="1.15"/>
<circle cx="204.8" cy="284.8" r="3.1" fill="none" stroke="#ff1a1a" stroke-width="1.15"/>
<circle cx="205.2" cy="283.1" r="3.1" fill="none" stroke="#ff1a1a" stroke-width="1.15"/>
<circle cx="205.9" cy="283.8" r="3.1" fill="none" stroke="#ff1a1a" stroke-width="1.15"/>
<circle cx="205.3" cy="281.8" r="3.1" fill="none" stroke="#ff1a1a" stroke-width="1.15"/>
<circle cx="206.5" cy="284.5" r="3.1" fill="none" stroke="#ff1a1a" stroke-width="1.15"/>
<circle cx="206.4" cy="282.7" r="3.1" fill="none" stroke="#ff1a1a" stroke-width="1.15"/>
<circle cx="208.8" cy="286.0" r="3.1" fill="none" stroke="#ff1a1a" stroke-width="1.15"/>
<circle cx="208.3" cy="284.5" r="3.1" fill="none" stroke="#ff1a1a" stroke-width="1.15"/>
<circle cx="208.8" cy="284.9" r="3.1" fill="none" stroke="#ff1a1a" stroke-width="1.15"/>
<circle cx="209.6" cy="275.9" r="3.1" fill="none" stroke="#ff1a1a" stroke-width="1.15"/>
<circle cx="209.7" cy="283.0" r="3.1" fill="none" stroke="#ff1a1a" stroke-width="1.15"/>
<circle cx="210.9" cy="279.7" r="3.1" fill="none" stroke="#ff1a1a" stroke-width="1.15"/>
<circle cx="211.5" cy="281.1" r="3.1" fill="none" stroke="#ff1a1a" stroke-width="1.15"/>
<circle cx="212.6" cy="280.2" r="3.1" fill="none" stroke="#ff1a1a" stroke-width="1.15"/>
<circle cx="212.3" cy="284.2" r="3.1" fill="none" stroke="#ff1a1a" stroke-width="1.15"/>
<circle cx="212.8" cy="280.8" r="3.1" fill="none" stroke="#ff1a1a" stroke-width="1.15"/>
<circle cx="214.1" cy="279.5" r="3.1" fill="none" stroke="#ff1a1a" stroke-width="1.15"/>
<circle cx="213.9" cy="279.9" r="3.1" fill="none" stroke="#ff1a1a" stroke-width="1.15"/>
<circle cx="214.4" cy="284.3" r="3.1" fill="none" stroke="#ff1a1a" stroke-width="1.15"/>
<circle cx="215.0" cy="281.2" r="3.1" fill="none" stroke="#ff1a1a" stroke-width="1.15"/>
<circle cx="215.7" cy="279.9" r="3.1" fill="none" stroke="#ff1a1a" stroke-width="1.15"/>
<circle cx="215.6" cy="280.2" r="3.1" fill="none" stroke="#ff1a1a" stroke-width="1.15"/>
<circle cx="217.1" cy="281.5" r="3.1" fill="none" stroke="#ff1a1a" stroke-width="1.15"/>
<circle cx="216.6" cy="283.6" r="3.1" fill="none" stroke="#ff1a1a" stroke-width="1.15"/>
<circle cx="218.1" cy="280.3" r="3.1" fill="none" stroke="#ff1a1a" stroke-width="1.15"/>
<circle cx="217.9" cy="283.2" r="3.1" fill="none" stroke="#ff1a1a" stroke-width="1.15"/>
<circle cx="218.6" cy="280.9" r="3.1" fill="none" stroke="#ff1a1a" stroke-width="1.15"/>
<circle cx="219.7" cy="284.8" r="3.1" fill="none" stroke="#ff1a1a" stroke-width="1.15"/>
<circle cx="220.1" cy="281.3" r="3.1" fill="none" stroke="#ff1a1a" stroke-width="1.15"/>
<circle cx="220.2" cy="285.3" r="3.1" fill="none" stroke="#ff1a1a" stroke-width="1.15"/>
<circle cx="220.8" cy="283.1" r="3.1" fill="none" stroke="#ff1a1a" stroke-width="1.15"/>
<circle cx="221.4" cy="283.6" r="3.1" fill="none" stroke="#ff1a1a" stroke-width="1.15"/>
<circle cx="221.6" cy="285.0" r="3.1" fill="none" stroke="#ff1a1a" stroke-width="1.15"/>
<circle cx="223.3" cy="282.2" r="3.1" fill="none" stroke="#ff1a1a" stroke-width="1.15"/>
<circle cx="223.0" cy="285.5" r="3.1" fill="none" stroke="#ff1a1a" stroke-width="1.15"/>
<circle cx="224.3" cy="286.1" r="3.1" fill="none" stroke="#ff1a1a" stroke-width="1.15"/>
<circle cx="224.6" cy="284.6" r="3.1" fill="none" stroke="#ff1a1a" stroke-width="1.15"/>
<circle cx="225.1" cy="285.1" r="3.1" fill="none" stroke="#ff1a1a" stroke-width="1.15"/>
<circle cx="225.9" cy="285.5" r="3.1" fill="none" stroke="#ff1a1a" stroke-width="1.15"/>
<circle cx="227.0" cy="283.8" r="3.1" fill="none" stroke="#ff1a1a" stroke-width="1.15"/>
<circle cx="227.2" cy="284.6" r="3.1" fill="none" stroke="#ff1a1a" stroke-width="1.15"/>
<circle cx="227.6" cy="286.1" r="3.1" fill="none" stroke="#ff1a1a" stroke-width="1.15"/>
<circle cx="227.7" cy="287.0" r="3.1" fill="none" stroke="#ff1a1a" stroke-width="1.15"/>
<circle cx="228.3" cy="288.8" r="3.1" fill="none" stroke="#ff1a1a" stroke-width="1.15"/>
<circle cx="228.6" cy="283.9" r="3.1" fill="none" stroke="#ff1a1a" stroke-width="1.15"/>
<circle cx="229.5" cy="280.1" r="3.1" fill="none" stroke="#ff1a1a" stroke-width="1.15"/>
<circle cx="230.5" cy="288.3" r="3.1" fill="none" stroke="#ff1a1a" stroke-width="1.15"/>
<circle cx="230.7" cy="282.7" r="3.1" fill="none" stroke="#ff1a1a" stroke-width="1.15"/>
<circle cx="230.4" cy="286.1" r="3.1" fill="none" stroke="#ff1a1a" stroke-width="1.15"/>
<circle cx="231.5" cy="281.5" r="3.1" fill="none" stroke="#ff1a1a" stroke-width="1.15"/>
<circle cx="232.0" cy="286.8" r="3.1" fill="none" stroke="#ff1a1a" stroke-width="1.15"/>
<circle cx="231.8" cy="286.4" r="3.1" fill="none" stroke="#ff1a1a" stroke-width="1.15"/>
<circle cx="232.7" cy="283.1" r="3.1" fill="none" stroke="#ff1a1a" stroke-width="1.15"/>
<circle cx="233.9" cy="284.1" r="3.1" fill="none" stroke="#ff1a1a" stroke-width="1.15"/>
<circle cx="234.4" cy="285.0" r="3.1" fill="none" stroke="#ff1a1a" stroke-width="1.15"/>
<circle cx="234.3" cy="284.2" r="3.1" fill="none" stroke="#ff1a1a" stroke-width="1.15"/>
<circle cx="235.6" cy="284.6" r="3.1" fill="none" stroke="#ff1a1a" stroke-width="1.15"/>
<circle cx="234.9" cy="286.4" r="3.1" fill="none" stroke="#ff1a1a" stroke-width="1.15"/>
<circle cx="236.0" cy="283.0" r="3.1" fill="none" stroke="#ff1a1a" stroke-width="1.15"/>
<circle cx="237.5" cy="283.8" r="3.1" fill="none" stroke="#ff1a1a" stroke-width="1.15"/>
<circle cx="237.6" cy="282.2" r="3.1" fill="none" stroke="#ff1a1a" stroke-width="1.15"/>
<circle cx="238.3" cy="281.7" r="3.1" fill="none" stroke="#ff1a1a" stroke-width="1.15"/>
<circle cx="238.3" cy="288.9" r="3.1" fill="none" stroke="#ff1a1a" stroke-width="1.15"/>
<circle cx="239.1" cy="281.5" r="3.1" fill="none" stroke="#ff1a1a" stroke-width="1.15"/>
<circle cx="239.6" cy="284.9" r="3.1" fill="none" stroke="#ff1a1a" stroke-width="1.15"/>
<circle cx="240.3" cy="283.0" r="3.1" fill="none" stroke="#ff1a1a" stroke-width="1.15"/>
<circle cx="241.3" cy="281.5" r="3.1" fill="none" stroke="#ff1a1a" stroke-width="1.15"/>
<circle cx="241.4" cy="282.0" r="3.1" fill="none" stroke="#ff1a1a" stroke-width="1.15"/>
<circle cx="241.9" cy="283.5" r="3.1" fill="none" stroke="#ff1a1a" stroke-width="1.15"/>
<circle cx="242.8" cy="283.9" r="3.1" fill="none" stroke="#ff1a1a" stroke-width="1.15"/>
<circle cx="243.2" cy="283.7" r="3.1" fill="none" stroke="#ff1a1a" stroke-width="1.15"/>
<circle cx="243.7" cy="286.4" r="3.1" fill="none" stroke="#ff1a1a" stroke-width="1.15"/>
<circle cx="244.9" cy="285.2" r="3.1" fill="none" stroke="#ff1a1a" stroke-width="1.15"/>
<circle cx="244.5" cy="281.5" r="3.1" fill="none" stroke="#ff1a1a" stroke-width="1.15"/>
<circle cx="244.5" cy="283.5" r="3.1" fill="none" stroke="#ff1a1a" stroke-width="1.15"/>
<circle cx="245.4" cy="287.2" r="3.1" fill="none" stroke="#ff1a1a" stroke-width="1.15"/>
<circle cx="247.9" cy="282.9" r="3.1" fill="none" stroke="#ff1a1a" stroke-width="1.15"/>
<circle cx="247.7" cy="288.1" r="3.1" fill="none" stroke="#ff1a1a" stroke-width="1.15"/>
<circle cx="247.3" cy="285.8" r="3.1" fill="none" stroke="#ff1a1a" stroke-width="1.15"/>
<circle cx="246.9" cy="288.7" r="3.1" fill="none" stroke="#ff1a1a" stroke-width="1.15"/>
<circle cx="247.8" cy="283.9" r="3.1" fill="none" stroke="#ff1a1a" stroke-width="1.15"/>
<circle cx="248.8" cy="287.0" r="3.1" fill="none" stroke="#ff1a1a" stroke-width="1.15"/>
<circle cx="249.5" cy="284.0" r="3.1" fill="none" stroke="#ff1a1a" stroke-width="1.15"/>
<circle cx="249.3" cy="288.7" r="3.1" fill="none" stroke="#ff1a1a" stroke-width="1.15"/>
<circle cx="250.0" cy="288.0" r="3.1" fill="none" stroke="#ff1a1a" stroke-width="1.15"/>
<circle cx="250.7" cy="289.3" r="3.1" fill="none" stroke="#ff1a1a" stroke-width="1.15"/>
<circle cx="251.4" cy="286.2" r="3.1" fill="none" stroke="#ff1a1a" stroke-width="1.15"/>
<circle cx="252.5" cy="287.9" r="3.1" fill="none" stroke="#ff1a1a" stroke-width="1.15"/>
<circle cx="253.2" cy="286.0" r="3.1" fill="none" stroke="#ff1a1a" stroke-width="1.15"/>
<circle cx="252.8" cy="288.1" r="3.1" fill="none" stroke="#ff1a1a" stroke-width="1.15"/>
<circle cx="253.4" cy="284.5" r="3.1" fill="none" stroke="#ff1a1a" stroke-width="1.15"/>
<circle cx="254.0" cy="285.4" r="3.1" fill="none" stroke="#ff1a1a" stroke-width="1.15"/>
<circle cx="255.2" cy="290.4" r="3.1" fill="none" stroke="#ff1a1a" stroke-width="1.15"/>
<circle cx="255.0" cy="286.3" r="3.1" fill="none" stroke="#ff1a1a" stroke-width="1.15"/>
<circle cx="256.1" cy="283.1" r="3.1" fill="none" stroke="#ff1a1a" stroke-width="1.15"/>
<circle cx="257.2" cy="289.4" r="3.1" fill="none" stroke="#ff1a1a" stroke-width="1.15"/>
<circle cx="257.6" cy="286.0" r="3.1" fill="none" stroke="#ff1a1a" stroke-width="1.15"/>
<circle cx="258.9" cy="285.5" r="3.1" fill="none" stroke="#ff1a1a" stroke-width="1.15"/>
<circle cx="259.4" cy="286.7" r="3.1" fill="none" stroke="#ff1a1a" stroke-width="1.15"/>
<circle cx="258.9" cy="288.2" r="3.1" fill="none" stroke="#ff1a1a" stroke-width="1.15"/>
<circle cx="260.0" cy="283.6" r="3.1" fill="none" stroke="#ff1a1a" stroke-width="1.15"/>
<circle cx="259.2" cy="283.9" r="3.1" fill="none" stroke="#ff1a1a" stroke-width="1.15"/>
<circle cx="260.1" cy="282.9" r="3.1" fill="none" stroke="#ff1a1a" stroke-width="1.15"/>
<circle cx="261.4" cy="286.3" r="3.1" fill="none" stroke="#ff1a1a" stroke-width="1.15"/>
<circle cx="262.7" cy="285.1" r="3.1" fill="none" stroke="#ff1a1a" stroke-width="1.15"/>
<circle cx="263.0" cy="284.1" r="3.1" fill="none" stroke="#ff1a1a" stroke-width="1.15"/>
<circle cx="262.9" cy="285.8" r="3.1" fill="none" stroke="#ff1a1a" stroke-width="1.15"/>
<circle cx="264.3" cy="284.6" r="3.1" fill="none" stroke="#ff1a1a" stroke-width="1.15"/>
<circle cx="263.1" cy="283.8" r="3.1" fill="none" stroke="#ff1a1a" stroke-width="1.15"/>
<circle cx="265.2" cy="284.4" r="3.1" fill="none" stroke="#ff1a1a" stroke-width="1.15"/>
<circle cx="265.2" cy="282.8" r="3.1" fill="none" stroke="#ff1a1a" stroke-width="1.15"/>
<circle cx="266.5" cy="288.7" r="3.1" fill="none" stroke="#ff1a1a" stroke-width="1.15"/>
<circle cx="267.7" cy="287.3" r="3.1" fill="none" stroke="#ff1a1a" stroke-width="1.15"/>
<circle cx="266.7" cy="285.9" r="3.1" fill="none" stroke="#ff1a1a" stroke-width="1.15"/>
<circle cx="267.5" cy="281.7" r="3.1" fill="none" stroke="#ff1a1a" stroke-width="1.15"/>
<circle cx="267.7" cy="288.2" r="3.1" fill="none" stroke="#ff1a1a" stroke-width="1.15"/>
<circle cx="268.8" cy="285.9" r="3.1" fill="none" stroke="#ff1a1a" stroke-width="1.15"/>
<circle cx="268.8" cy="287.6" r="3.1" fill="none" stroke="#ff1a1a" stroke-width="1.15"/>
<circle cx="269.3" cy="285.3" r="3.1" fill="none" stroke="#ff1a1a" stroke-width="1.15"/>
<circle cx="269.8" cy="281.2" r="3.1" fill="none" stroke="#ff1a1a" stroke-width="1.15"/>
<circle cx="271.4" cy="289.5" r="3.1" fill="none" stroke="#ff1a1a" stroke-width="1.15"/>
<circle cx="271.0" cy="282.4" r="3.1" fill="none" stroke="#ff1a1a" stroke-width="1.15"/>
<circle cx="271.2" cy="286.6" r="3.1" fill="none" stroke="#ff1a1a" stroke-width="1.15"/>
<circle cx="271.8" cy="289.2" r="3.1" fill="none" stroke="#ff1a1a" stroke-width="1.15"/>
<circle cx="272.8" cy="287.5" r="3.1" fill="none" stroke="#ff1a1a" stroke-width="1.15"/>
<circle cx="273.3" cy="285.0" r="3.1" fill="none" stroke="#ff1a1a" stroke-width="1.15"/>
<circle cx="274.2" cy="287.1" r="3.1" fill="none" stroke="#ff1a1a" stroke-width="1.15"/>
<circle cx="274.8" cy="286.5" r="3.1" fill="none" stroke="#ff1a1a" stroke-width="1.15"/>
<circle cx="274.9" cy="287.7" r="3.1" fill="none" stroke="#ff1a1a" stroke-width="1.15"/>
<circle cx="274.4" cy="287.6" r="3.1" fill="none" stroke="#ff1a1a" stroke-width="1.15"/>
<circle cx="277.0" cy="291.2" r="3.1" fill="none" stroke="#ff1a1a" stroke-width="1.15"/>
<circle cx="275.3" cy="286.5" r="3.1" fill="none" stroke="#ff1a1a" stroke-width="1.15"/>
<circle cx="277.7" cy="287.0" r="3.1" fill="none" stroke="#ff1a1a" stroke-width="1.15"/>
<circle cx="279.1" cy="281.2" r="3.1" fill="none" stroke="#ff1a1a" stroke-width="1.15"/>
<circle cx="277.9" cy="285.7" r="3.1" fill="none" stroke="#ff1a1a" stroke-width="1.15"/>
<circle cx="279.0" cy="285.8" r="3.1" fill="none" stroke="#ff1a1a" stroke-width="1.15"/>
<circle cx="279.4" cy="288.3" r="3.1" fill="none" stroke="#ff1a1a" stroke-width="1.15"/>
<circle cx="279.5" cy="288.2" r="3.1" fill="none" stroke="#ff1a1a" stroke-width="1.15"/>
<circle cx="280.3" cy="288.8" r="3.1" fill="none" stroke="#ff1a1a" stroke-width="1.15"/>
<circle cx="281.7" cy="286.9" r="3.1" fill="none" stroke="#ff1a1a" stroke-width="1.15"/>
<circle cx="282.1" cy="287.9" r="3.1" fill="none" stroke="#ff1a1a" stroke-width="1.15"/>
<circle cx="281.8" cy="291.5" r="3.1" fill="none" stroke="#ff1a1a" stroke-width="1.15"/>
<circle cx="281.9" cy="288.2" r="3.1" fill="none" stroke="#ff1a1a" stroke-width="1.15"/>
<circle cx="282.5" cy="291.4" r="3.1" fill="none" stroke="#ff1a1a" stroke-width="1.15"/>
<circle cx="283.5" cy="283.5" r="3.1" fill="none" stroke="#ff1a1a" stroke-width="1.15"/>
<circle cx="284.6" cy="290.2" r="3.1" fill="none" stroke="#ff1a1a" stroke-width="1.15"/>
<circle cx="285.2" cy="283.3" r="3.1" fill="none" stroke="#ff1a1a" stroke-width="1.15"/>
<circle cx="285.0" cy="285.7" r="3.1" fill="none" stroke="#ff1a1a" stroke-width="1.15"/>
<circle cx="286.4" cy="291.5" r="3.1" fill="none" stroke="#ff1a1a" stroke-width="1.15"/>
<circle cx="287.0" cy="288.5" r="3.1" fill="none" stroke="#ff1a1a" stroke-width="1.15"/>
<circle cx="287.5" cy="285.7" r="3.1" fill="none" stroke="#ff1a1a" stroke-width="1.15"/>
<circle cx="286.0" cy="286.3" r="3.1" fill="none" stroke="#ff1a1a" stroke-width="1.15"/>
<circle cx="289.0" cy="286.6" r="3.1" fill="none" stroke="#ff1a1a" stroke-width="1.15"/>
<circle cx="289.4" cy="286.0" r="3.1" fill="none" stroke="#ff1a1a" stroke-width="1.15"/>
<circle cx="289.5" cy="285.9" r="3.1" fill="none" stroke="#ff1a1a" stroke-width="1.15"/>
<circle cx="290.1" cy="287.8" r="3.1" fill="none" stroke="#ff1a1a" stroke-width="1.15"/>
<circle cx="290.0" cy="289.2" r="3.1" fill="none" stroke="#ff1a1a" stroke-width="1.15"/>
<circle cx="292.2" cy="288.1" r="3.1" fill="none" stroke="#ff1a1a" stroke-width="1.15"/>
<circle cx="291.4" cy="289.7" r="3.1" fill="none" stroke="#ff1a1a" stroke-width="1.15"/>
<circle cx="292.3" cy="288.4" r="3.1" fill="none" stroke="#ff1a1a" stroke-width="1.15"/>
<circle cx="292.8" cy="289.3" r="3.1" fill="none" stroke="#ff1a1a" stroke-width="1.15"/>
<circle cx="293.3" cy="289.1" r="3.1" fill="none" stroke="#ff1a1a" stroke-width="1.15"/>
<circle cx="294.4" cy="287.7" r="3.1" fill="none" stroke="#ff1a1a" stroke-width="1.15"/>
<circle cx="293.6" cy="290.8" r="3.1" fill="none" stroke="#ff1a1a" stroke-width="1.15"/>
<circle cx="295.1" cy="286.2" r="3.1" fill="none" stroke="#ff1a1a" stroke-width="1.15"/>
<circle cx="295.2" cy="286.2" r="3.1" fill="none" stroke="#ff1a1a" stroke-width="1.15"/>
<circle cx="296.0" cy="288.0" r="3.1" fill="none" stroke="#ff1a1a" stroke-width="1.15"/>
<circle cx="297.9" cy="287.5" r="3.1" fill="none" stroke="#ff1a1a" stroke-width="1.15"/>
<circle cx="297.5" cy="290.4" r="3.1" fill="none" stroke="#ff1a1a" stroke-width="1.15"/>
<circle cx="296.6" cy="285.6" r="3.1" fill="none" stroke="#ff1a1a" stroke-width="1.15"/>
<circle cx="298.5" cy="289.1" r="3.1" fill="none" stroke="#ff1a1a" stroke-width="1.15"/>
<circle cx="299.2" cy="288.7" r="3.1" fill="none" stroke="#ff1a1a" stroke-width="1.15"/>
<circle cx="299.6" cy="283.5" r="3.1" fill="none" stroke="#ff1a1a" stroke-width="1.15"/>
<circle cx="298.7" cy="291.3" r="3.1" fill="none" stroke="#ff1a1a" stroke-width="1.15"/>
<circle cx="300.3" cy="289.2" r="3.1" fill="none" stroke="#ff1a1a" stroke-width="1.15"/>
<circle cx="299.6" cy="287.4" r="3.1" fill="none" stroke="#ff1a1a" stroke-width="1.15"/>
<circle cx="301.5" cy="285.7" r="3.1" fill="none" stroke="#ff1a1a" stroke-width="1.15"/>
<circle cx="301.9" cy="290.7" r="3.1" fill="none" stroke="#ff1a1a" stroke-width="1.15"/>
<circle cx="302.0" cy="292.1" r="3.1" fill="none" stroke="#ff1a1a" stroke-width="1.15"/>
<circle cx="301.7" cy="292.0" r="3.1" fill="none" stroke="#ff1a1a" stroke-width="1.15"/>
<circle cx="303.8" cy="288.3" r="3.1" fill="none" stroke="#ff1a1a" stroke-width="1.15"/>
<circle cx="304.7" cy="289.7" r="3.1" fill="none" stroke="#ff1a1a" stroke-width="1.15"/>
<circle cx="303.3" cy="286.0" r="3.1" fill="none" stroke="#ff1a1a" stroke-width="1.15"/>
<circle cx="304.3" cy="287.5" r="3.1" fill="none" stroke="#ff1a1a" stroke-width="1.15"/>
<circle cx="305.1" cy="288.2" r="3.1" fill="none" stroke="#ff1a1a" stroke-width="1.15"/>
<circle cx="306.2" cy="287.3" r="3.1" fill="none" stroke="#ff1a1a" stroke-width="1.15"/>
<circle cx="306.4" cy="288.1" r="3.1" fill="none" stroke="#ff1a1a" stroke-width="1.15"/>
<circle cx="307.0" cy="290.5" r="3.1" fill="none" stroke="#ff1a1a" stroke-width="1.15"/>
<circle cx="308.2" cy="287.3" r="3.1" fill="none" stroke="#ff1a1a" stroke-width="1.15"/>
<circle cx="309.4" cy="287.6" r="3.1" fill="none" stroke="#ff1a1a" stroke-width="1.15"/>
<circle cx="308.8" cy="287.2" r="3.1" fill="none" stroke="#ff1a1a" stroke-width="1.15"/>
<circle cx="309.9" cy="290.0" r="3.1" fill="none" stroke="#ff1a1a" stroke-width="1.15"/>
<circle cx="309.9" cy="285.6" r="3.1" fill="none" stroke="#ff1a1a" stroke-width="1.15"/>
<circle cx="311.5" cy="288.0" r="3.1" fill="none" stroke="#ff1a1a" stroke-width="1.15"/>
<circle cx="311.3" cy="289.3" r="3.1" fill="none" stroke="#ff1a1a" stroke-width="1.15"/>
<circle cx="312.2" cy="282.0" r="3.1" fill="none" stroke="#ff1a1a" stroke-width="1.15"/>
<circle cx="311.4" cy="284.6" r="3.1" fill="none" stroke="#ff1a1a" stroke-width="1.15"/>
<circle cx="313.0" cy="285.8" r="3.1" fill="none" stroke="#ff1a1a" stroke-width="1.15"/>
<circle cx="315.0" cy="287.5" r="3.1" fill="none" stroke="#ff1a1a" stroke-width="1.15"/>
<circle cx="313.5" cy="286.8" r="3.1" fill="none" stroke="#ff1a1a" stroke-width="1.15"/>
<circle cx="314.6" cy="289.9" r="3.1" fill="none" stroke="#ff1a1a" stroke-width="1.15"/>
<circle cx="314.5" cy="286.2" r="3.1" fill="none" stroke="#ff1a1a" stroke-width="1.15"/>
<circle cx="316.5" cy="287.1" r="3.1" fill="none" stroke="#ff1a1a" stroke-width="1.15"/>
<circle cx="316.0" cy="288.6" r="3.1" fill="none" stroke="#ff1a1a" stroke-width="1.15"/>
<circle cx="316.9" cy="289.1" r="3.1" fill="none" stroke="#ff1a1a" stroke-width="1.15"/>
<circle cx="317.7" cy="284.2" r="3.1" fill="none" stroke="#ff1a1a" stroke-width="1.15"/>
<circle cx="318.9" cy="288.4" r="3.1" fill="none" stroke="#ff1a1a" stroke-width="1.15"/>
<circle cx="317.7" cy="286.9" r="3.1" fill="none" stroke="#ff1a1a" stroke-width="1.15"/>
<circle cx="320.5" cy="288.7" r="3.1" fill="none" stroke="#ff1a1a" stroke-width="1.15"/>
<circle cx="320.5" cy="285.5" r="3.1" fill="none" stroke="#ff1a1a" stroke-width="1.15"/>
<circle cx="320.5" cy="287.2" r="3.1" fill="none" stroke="#ff1a1a" stroke-width="1.15"/>
<circle cx="320.1" cy="287.0" r="3.1" fill="none" stroke="#ff1a1a" stroke-width="1.15"/>
<circle cx="320.9" cy="289.3" r="3.1" fill="none" stroke="#ff1a1a" stroke-width="1.15"/>
<circle cx="322.1" cy="287.4" r="3.1" fill="none" stroke="#ff1a1a" stroke-width="1.15"/>
<circle cx="322.7" cy="283.9" r="3.1" fill="none" stroke="#ff1a1a" stroke-width="1.15"/>
<circle cx="322.7" cy="287.9" r="3.1" fill="none" stroke="#ff1a1a" stroke-width="1.15"/>
<circle cx="323.6" cy="285.4" r="3.1" fill="none" stroke="#ff1a1a" stroke-width="1.15"/>
<circle cx="323.8" cy="287.8" r="3.1" fill="none" stroke="#ff1a1a" stroke-width="1.15"/>
<circle cx="324.5" cy="287.2" r="3.1" fill="none" stroke="#ff1a1a" stroke-width="1.15"/>
<circle cx="325.8" cy="282.7" r="3.1" fill="none" stroke="#ff1a1a" stroke-width="1.15"/>
<circle cx="324.9" cy="289.0" r="3.1" fill="none" stroke="#ff1a1a" stroke-width="1.15"/>
<circle cx="326.1" cy="291.3" r="3.1" fill="none" stroke="#ff1a1a" stroke-width="1.15"/>
<circle cx="327.0" cy="285.4" r="3.1" fill="none" stroke="#ff1a1a" stroke-width="1.15"/>
<circle cx="326.8" cy="289.4" r="3.1" fill="none" stroke="#ff1a1a" stroke-width="1.15"/>
<circle cx="327.9" cy="289.1" r="3.1" fill="none" stroke="#ff1a1a" stroke-width="1.15"/>
<circle cx="328.7" cy="284.3" r="3.1" fill="none" stroke="#ff1a1a" stroke-width="1.15"/>
<circle cx="329.2" cy="285.1" r="3.1" fill="none" stroke="#ff1a1a" stroke-width="1.15"/>
<circle cx="329.4" cy="287.4" r="3.1" fill="none" stroke="#ff1a1a" stroke-width="1.15"/>
<circle cx="331.2" cy="282.3" r="3.1" fill="none" stroke="#ff1a1a" stroke-width="1.15"/>
<circle cx="331.6" cy="288.7" r="3.1" fill="none" stroke="#ff1a1a" stroke-width="1.15"/>
<circle cx="331.6" cy="285.9" r="3.1" fill="none" stroke="#ff1a1a" stroke-width="1.15"/>
<circle cx="330.6" cy="286.8" r="3.1" fill="none" stroke="#ff1a1a" stroke-width="1.15"/>
<circle cx="332.2" cy="284.9" r="3.1" fill="none" stroke="#ff1a1a" stroke-width="1.15"/>
<circle cx="332.8" cy="283.8" r="3.1" fill="none" stroke="#ff1a1a" stroke-width="1.15"/>
<circle cx="333.1" cy="286.4" r="3.1" fill="none" stroke="#ff1a1a" stroke-width="1.15"/>
<circle cx="334.8" cy="283.0" r="3.1" fill="none" stroke="#ff1a1a" stroke-width="1.15"/>
<circle cx="334.5" cy="287.1" r="3.1" fill="none" stroke="#ff1a1a" stroke-width="1.15"/>
<circle cx="334.0" cy="286.5" r="3.1" fill="none" stroke="#ff1a1a" stroke-width="1.15"/>
<circle cx="335.5" cy="285.9" r="3.1" fill="none" stroke="#ff1a1a" stroke-width="1.15"/>
<circle cx="336.5" cy="289.0" r="3.1" fill="none" stroke="#ff1a1a" stroke-width="1.15"/>
<circle cx="337.5" cy="285.4" r="3.1" fill="none" stroke="#ff1a1a" stroke-width="1.15"/>
<circle cx="336.8" cy="286.8" r="3.1" fill="none" stroke="#ff1a1a" stroke-width="1.15"/>
<circle cx="339.1" cy="285.1" r="3.1" fill="none" stroke="#ff1a1a" stroke-width="1.15"/>
<circle cx="337.9" cy="284.7" r="3.1" fill="none" stroke="#ff1a1a" stroke-width="1.15"/>
<circle cx="338.2" cy="285.4" r="3.1" fill="none" stroke="#ff1a1a" stroke-width="1.15"/>
<circle cx="339.4" cy="285.8" r="3.1" fill="none" stroke="#ff1a1a" stroke-width="1.15"/>
<circle cx="338.5" cy="286.0" r="3.1" fill="none" stroke="#ff1a1a" stroke-width="1.15"/>
<circle cx="339.3" cy="283.2" r="3.1" fill="none" stroke="#ff1a1a" stroke-width="1.15"/>
<circle cx="341.0" cy="287.2" r="3.1" fill="none" stroke="#ff1a1a" stroke-width="1.15"/>
<circle cx="341.7" cy="281.8" r="3.1" fill="none" stroke="#ff1a1a" stroke-width="1.15"/>
<circle cx="341.9" cy="287.7" r="3.1" fill="none" stroke="#ff1a1a" stroke-width="1.15"/>
<circle cx="343.2" cy="286.1" r="3.1" fill="none" stroke="#ff1a1a" stroke-width="1.15"/>
<circle cx="343.2" cy="282.3" r="3.1" fill="none" stroke="#ff1a1a" stroke-width="1.15"/>
<circle cx="344.7" cy="287.5" r="3.1" fill="none" stroke="#ff1a1a" stroke-width="1.15"/>
<circle cx="343.1" cy="286.1" r="3.1" fill="none" stroke="#ff1a1a" stroke-width="1.15"/>
<circle cx="344.0" cy="286.7" r="3.1" fill="none" stroke="#ff1a1a" stroke-width="1.15"/>
<circle cx="345.8" cy="285.9" r="3.1" fill="none" stroke="#ff1a1a" stroke-width="1.15"/>
<circle cx="346.7" cy="285.0" r="3.1" fill="none" stroke="#ff1a1a" stroke-width="1.15"/>
<circle cx="346.6" cy="287.3" r="3.1" fill="none" stroke="#ff1a1a" stroke-width="1.15"/>
<circle cx="346.5" cy="286.6" r="3.1" fill="none" stroke="#ff1a1a" stroke-width="1.15"/>
<circle cx="347.6" cy="287.0" r="3.1" fill="none" stroke="#ff1a1a" stroke-width="1.15"/>
<circle cx="347.9" cy="285.6" r="3.1" fill="none" stroke="#ff1a1a" stroke-width="1.15"/>
<circle cx="348.5" cy="289.4" r="3.1" fill="none" stroke="#ff1a1a" stroke-width="1.15"/>
<circle cx="349.2" cy="287.8" r="3.1" fill="none" stroke="#ff1a1a" stroke-width="1.15"/>
<circle cx="349.9" cy="287.4" r="3.1" fill="none" stroke="#ff1a1a" stroke-width="1.15"/>
<circle cx="350.3" cy="284.9" r="3.1" fill="none" stroke="#ff1a1a" stroke-width="1.15"/>
<circle cx="351.0" cy="286.1" r="3.1" fill="none" stroke="#ff1a1a" stroke-width="1.15"/>
<circle cx="351.8" cy="285.5" r="3.1" fill="none" stroke="#ff1a1a" stroke-width="1.15"/>
<circle cx="351.1" cy="286.1" r="3.1" fill="none" stroke="#ff1a1a" stroke-width="1.15"/>
<circle cx="351.8" cy="288.2" r="3.1" fill="none" stroke="#ff1a1a" stroke-width="1.15"/>
<circle cx="353.8" cy="289.0" r="3.1" fill="none" stroke="#ff1a1a" stroke-width="1.15"/>
<circle cx="354.3" cy="286.8" r="3.1" fill="none" stroke="#ff1a1a" stroke-width="1.15"/>
<circle cx="354.9" cy="285.8" r="3.1" fill="none" stroke="#ff1a1a" stroke-width="1.15"/>
<circle cx="355.1" cy="287.6" r="3.1" fill="none" stroke="#ff1a1a" stroke-width="1.15"/>
<circle cx="355.6" cy="287.4" r="3.1" fill="none" stroke="#ff1a1a" stroke-width="1.15"/>
<circle cx="355.3" cy="288.7" r="3.1" fill="none" stroke="#ff1a1a" stroke-width="1.15"/>
<circle cx="356.9" cy="286.8" r="3.1" fill="none" stroke="#ff1a1a" stroke-width="1.15"/>
<circle cx="356.9" cy="289.0" r="3.1" fill="none" stroke="#ff1a1a" stroke-width="1.15"/>
<circle cx="358.5" cy="287.8" r="3.1" fill="none" stroke="#ff1a1a" stroke-width="1.15"/>
<circle cx="356.5" cy="285.3" r="3.1" fill="none" stroke="#ff1a1a" stroke-width="1.15"/>
<circle cx="359.0" cy="288.7" r="3.1" fill="none" stroke="#ff1a1a" stroke-width="1.15"/>
<circle cx="358.1" cy="288.6" r="3.1" fill="none" stroke="#ff1a1a" stroke-width="1.15"/>
<circle cx="359.6" cy="287.9" r="3.1" fill="none" stroke="#ff1a1a" stroke-width="1.15"/>
<circle cx="360.5" cy="287.5" r="3.1" fill="none" stroke="#ff1a1a" stroke-width="1.15"/>
<circle cx="362.2" cy="289.0" r="3.1" fill="none" stroke="#ff1a1a" stroke-width="1.15"/>
<circle cx="360.6" cy="285.1" r="3.1" fill="none" stroke="#ff1a1a" stroke-width="1.15"/>
<circle cx="362.7" cy="285.9" r="3.1" fill="none" stroke="#ff1a1a" stroke-width="1.15"/>
<circle cx="362.5" cy="286.8" r="3.1" fill="none" stroke="#ff1a1a" stroke-width="1.15"/>
<circle cx="361.5" cy="288.3" r="3.1" fill="none" stroke="#ff1a1a" stroke-width="1.15"/>
<circle cx="364.0" cy="289.2" r="3.1" fill="none" stroke="#ff1a1a" stroke-width="1.15"/>
<circle cx="363.8" cy="287.2" r="3.1" fill="none" stroke="#ff1a1a" stroke-width="1.15"/>
<circle cx="364.8" cy="287.4" r="3.1" fill="none" stroke="#ff1a1a" stroke-width="1.15"/>
<circle cx="365.6" cy="288.2" r="3.1" fill="none" stroke="#ff1a1a" stroke-width="1.15"/>
<circle cx="365.2" cy="286.4" r="3.1" fill="none" stroke="#ff1a1a" stroke-width="1.15"/>
<circle cx="366.3" cy="288.0" r="3.1" fill="none" stroke="#ff1a1a" stroke-width="1.15"/>
<circle cx="367.6" cy="287.0" r="3.1" fill="none" stroke="#ff1a1a" stroke-width="1.15"/>
<circle cx="367.8" cy="288.4" r="3.1" fill="none" stroke="#ff1a1a" stroke-width="1.15"/>
<circle cx="368.9" cy="288.7" r="3.1" fill="none" stroke="#ff1a1a" stroke-width="1.15"/>
<circle cx="368.4" cy="287.6" r="3.1" fill="none" stroke="#ff1a1a" stroke-width="1.15"/>
<circle cx="369.4" cy="289.1" r="3.1" fill="none" stroke="#ff1a1a" stroke-width="1.15"/>
<circle cx="369.3" cy="286.3" r="3.1" fill="none" stroke="#ff1a1a" stroke-width="1.15"/>
<circle cx="370.3" cy="288.8" r="3.1" fill="none" stroke="#ff1a1a" stroke-width="1.15"/>
<circle cx="370.1" cy="287.7" r="3.1" fill="none" stroke="#ff1a1a" stroke-width="1.15"/>
<circle cx="371.7" cy="288.0" r="3.1" fill="none" stroke="#ff1a1a" stroke-width="1.15"/>
<circle cx="371.6" cy="289.3" r="3.1" fill="none" stroke="#ff1a1a" stroke-width="1.15"/>
<circle cx="372.1" cy="287.1" r="3.1" fill="none" stroke="#ff1a1a" stroke-width="1.15"/>
<circle cx="373.5" cy="286.0" r="3.1" fill="none" stroke="#ff1a1a" stroke-width="1.15"/>
<circle cx="373.4" cy="289.6" r="3.1" fill="none" stroke="#ff1a1a" stroke-width="1.15"/>
<circle cx="374.9" cy="289.0" r="3.1" fill="none" stroke="#ff1a1a" stroke-width="1.15"/>
<circle cx="374.6" cy="288.4" r="3.1" fill="none" stroke="#ff1a1a" stroke-width="1.15"/>
<circle cx="374.7" cy="289.5" r="3.1" fill="none" stroke="#ff1a1a" stroke-width="1.15"/>
<circle cx="375.0" cy="289.0" r="3.1" fill="none" stroke="#ff1a1a" stroke-width="1.15"/>
<circle cx="375.7" cy="289.5" r="3.1" fill="none" stroke="#ff1a1a" stroke-width="1.15"/>
<circle cx="376.8" cy="288.6" r="3.1" fill="none" stroke="#ff1a1a" stroke-width="1.15"/>
<circle cx="377.0" cy="286.8" r="3.1" fill="none" stroke="#ff1a1a" stroke-width="1.15"/>
<circle cx="377.7" cy="289.0" r="3.1" fill="none" stroke="#ff1a1a" stroke-width="1.15"/>
<circle cx="377.9" cy="287.7" r="3.1" fill="none" stroke="#ff1a1a" stroke-width="1.15"/>
<circle cx="378.9" cy="287.9" r="3.1" fill="none" stroke="#ff1a1a" stroke-width="1.15"/>
<circle cx="380.2" cy="288.3" r="3.1" fill="none" stroke="#ff1a1a" stroke-width="1.15"/>
<circle cx="379.9" cy="289.2" r="3.1" fill="none" stroke="#ff1a1a" stroke-width="1.15"/>
<circle cx="380.6" cy="286.3" r="3.1" fill="none" stroke="#ff1a1a" stroke-width="1.15"/>
<circle cx="381.0" cy="289.6" r="3.1" fill="none" stroke="#ff1a1a" stroke-width="1.15"/>
<circle cx="382.7" cy="290.9" r="3.1" fill="none" stroke="#ff1a1a" stroke-width="1.15"/>
<circle cx="382.1" cy="290.2" r="3.1" fill="none" stroke="#ff1a1a" stroke-width="1.15"/>
<circle cx="383.2" cy="291.6" r="3.1" fill="none" stroke="#ff1a1a" stroke-width="1.15"/>
<circle cx="384.1" cy="286.6" r="3.1" fill="none" stroke="#ff1a1a" stroke-width="1.15"/>
<circle cx="383.1" cy="287.0" r="3.1" fill="none" stroke="#ff1a1a" stroke-width="1.15"/>
<circle cx="385.3" cy="290.0" r="3.1" fill="none" stroke="#ff1a1a" stroke-width="1.15"/>
<circle cx="385.6" cy="289.1" r="3.1" fill="none" stroke="#ff1a1a" stroke-width="1.15"/>
<circle cx="384.6" cy="290.2" r="3.1" fill="none" stroke="#ff1a1a" stroke-width="1.15"/>
<circle cx="386.4" cy="289.2" r="3.1" fill="none" stroke="#ff1a1a" stroke-width="1.15"/>
<circle cx="387.0" cy="287.6" r="3.1" fill="none" stroke="#ff1a1a" stroke-width="1.15"/>
<circle cx="387.4" cy="288.4" r="3.1" fill="none" stroke="#ff1a1a" stroke-width="1.15"/>
<circle cx="388.7" cy="288.9" r="3.1" fill="none" stroke="#ff1a1a" stroke-width="1.15"/>
<circle cx="388.1" cy="289.2" r="3.1" fill="none" stroke="#ff1a1a" stroke-width="1.15"/>
<circle cx="388.4" cy="286.9" r="3.1" fill="none" stroke="#ff1a1a" stroke-width="1.15"/>
<circle cx="389.6" cy="291.3" r="3.1" fill="none" stroke="#ff1a1a" stroke-width="1.15"/>
<circle cx="390.4" cy="290.2" r="3.1" fill="none" stroke="#ff1a1a" stroke-width="1.15"/>
<circle cx="390.2" cy="287.2" r="3.1" fill="none" stroke="#ff1a1a" stroke-width="1.15"/>
<polyline points="83.10,294.30 85.05,294.19 87.86,294.04 90.94,293.86 93.70,293.70 96.01,293.54 98.16,293.36 100.26,293.21 102.40,293.10 104.68,293.02 107.04,292.95 109.27,292.96 111.20,293.10 112.70,293.44 113.89,293.92 114.96,294.44 116.10,294.90 117.37,295.27 118.67,295.61 119.93,295.92 121.10,296.20 122.16,296.38 123.16,296.49 124.07,296.66 124.90,297.00 125.61,297.53 126.23,298.18 126.80,298.99 127.40,300.00 128.02,301.58 128.62,303.57 129.27,305.29 130.00,306.00 130.85,305.31 131.77,303.66 132.74,301.64 133.70,299.80 134.65,298.31 135.60,296.86 136.55,295.33 137.50,293.60 138.48,291.61 139.48,289.43 140.42,287.14 141.20,284.80 141.77,282.46 142.20,280.08 142.55,277.58 142.90,274.90 143.26,272.00 143.59,268.93 143.91,265.72 144.20,262.40 144.47,258.96 144.72,255.39 144.96,251.73 145.20,248.00 145.45,243.62 145.69,238.76 145.94,234.63 146.20,232.40 146.48,232.61 146.78,234.54 147.09,237.56 147.40,241.00 147.72,245.14 148.04,250.17 148.37,255.34 148.70,259.90 149.00,263.76 149.29,267.29 149.60,270.40 150.00,273.00 150.44,275.00 150.91,276.48 151.50,277.58 152.30,278.50 153.40,279.25 154.73,279.76 156.15,280.01 157.50,280.00 158.77,279.71 160.02,279.14 161.26,278.36 162.50,277.40 163.79,276.12 165.11,274.55 166.35,273.00 167.40,271.80 168.19,270.98 168.80,270.40 169.33,270.07 169.90,270.00 170.53,270.23 171.15,270.74 171.78,271.48 172.40,272.40 172.99,273.62 173.57,275.11 174.18,276.65 174.90,278.00 175.76,279.15 176.72,280.21 177.73,281.12 178.70,281.80 179.66,282.20 180.63,282.36 181.56,282.40 182.40,282.40 183.07,282.44 183.62,282.46 184.18,282.34 184.90,282.00 185.83,281.31 186.90,280.35 188.02,279.34 189.10,278.50 190.13,277.75 191.15,277.03 192.17,276.54 193.20,276.50 194.25,277.11 195.30,278.21 196.35,279.47 197.40,280.60 198.40,281.62 199.36,282.65 200.37,283.53 201.50,284.10 202.80,284.25 204.21,284.10 205.67,283.77 207.10,283.40 208.51,282.96 209.94,282.39 211.33,281.81 212.60,281.30 213.72,280.80 214.73,280.29 215.70,279.94 216.70,279.90 217.71,280.31 218.71,281.06 219.76,281.92 220.90,282.70 222.18,283.41 223.56,284.15 224.99,284.79 226.40,285.20 227.83,285.31 229.29,285.21 230.71,285.00 232.00,284.80 233.11,284.63 234.08,284.43 235.02,284.22 236.00,284.00 237.00,283.69 237.99,283.32 239.06,283.06 240.30,283.10 241.77,283.61 243.41,284.45 245.12,285.34 246.80,286.00 248.35,286.39 249.85,286.64 251.47,286.75 253.40,286.70 255.75,286.34 258.41,285.73 261.18,285.18 263.90,285.00 266.46,285.43 268.98,286.25 271.59,287.10 274.40,287.60 277.57,287.55 281.00,287.19 284.43,286.80 287.60,286.70 290.41,287.07 293.02,287.71 295.54,288.35 298.10,288.70 300.82,288.62 303.61,288.29 306.26,287.89 308.60,287.60 310.45,287.48 311.96,287.42 313.39,287.38 315.00,287.30 316.84,287.19 318.77,287.06 320.80,286.91 322.90,286.70 325.11,286.38 327.42,285.97 329.77,285.61 332.10,285.40 334.31,285.40 336.46,285.54 338.73,285.76 341.30,286.00 344.30,286.29 347.60,286.64 351.03,287.00 354.40,287.30 357.70,287.52 361.00,287.69 364.30,287.84 367.60,288.00 370.97,288.19 374.40,288.38 377.70,288.56 380.70,288.70 383.49,288.79 386.12,288.84 388.34,288.88 389.90,288.90" fill="none" stroke="#000" stroke-width="3.6" stroke-linejoin="round" stroke-linecap="round"/>
<rect x="69.5" y="219.2" width="334.10" height="96.80" fill="none" stroke="#222" stroke-width="1.1"/>
<line x1="116.20" y1="316.00" x2="116.20" y2="311.50" stroke="#222" stroke-width="1.1"/>
<line x1="116.20" y1="219.20" x2="116.20" y2="223.70" stroke="#222" stroke-width="1.1"/>
<text x="116.20" y="331.50" font-size="14.72" text-anchor="middle" fill="#000" textLength="22.09" lengthAdjust="spacingAndGlyphs">0.5</text>
<line x1="204.05" y1="316.00" x2="204.05" y2="311.50" stroke="#222" stroke-width="1.1"/>
<line x1="204.05" y1="219.20" x2="204.05" y2="223.70" stroke="#222" stroke-width="1.1"/>
<text x="204.05" y="331.50" font-size="14.72" text-anchor="middle" fill="#000" textLength="22.09" lengthAdjust="spacingAndGlyphs">1.0</text>
<line x1="291.90" y1="316.00" x2="291.90" y2="311.50" stroke="#222" stroke-width="1.1"/>
<line x1="291.90" y1="219.20" x2="291.90" y2="223.70" stroke="#222" stroke-width="1.1"/>
<text x="291.90" y="331.50" font-size="14.72" text-anchor="middle" fill="#000" textLength="22.09" lengthAdjust="spacingAndGlyphs">1.5</text>
<line x1="379.75" y1="316.00" x2="379.75" y2="311.50" stroke="#222" stroke-width="1.1"/>
<line x1="379.75" y1="219.20" x2="379.75" y2="223.70" stroke="#222" stroke-width="1.1"/>
<text x="379.75" y="331.50" font-size="14.72" text-anchor="middle" fill="#000" textLength="22.09" lengthAdjust="spacingAndGlyphs">2.0</text>
<line x1="69.50" y1="240.60" x2="74.50" y2="240.60" stroke="#222" stroke-width="1.1"/>
<line x1="403.60" y1="240.60" x2="398.60" y2="240.60" stroke="#222" stroke-width="1.1"/>
<text x="65.00" y="246.20" font-size="14.72" text-anchor="end" fill="#000" textLength="22.09" lengthAdjust="spacingAndGlyphs">0.5</text>
<line x1="69.50" y1="294.70" x2="74.50" y2="294.70" stroke="#222" stroke-width="1.1"/>
<line x1="403.60" y1="294.70" x2="398.60" y2="294.70" stroke="#222" stroke-width="1.1"/>
<text x="65.00" y="300.30" font-size="14.72" text-anchor="end" fill="#000" textLength="22.09" lengthAdjust="spacingAndGlyphs">0.0</text>
<text x="199.00" y="353.90" font-size="17.67" text-anchor="start" fill="#000" textLength="51.73" lengthAdjust="spacingAndGlyphs">Q (nm</text>
<text x="251.30" y="346.10" font-size="12.37" text-anchor="start" fill="#000" textLength="17.20" lengthAdjust="spacingAndGlyphs">&#8722;1</text>
<text x="268.50" y="353.90" font-size="17.67" text-anchor="start" fill="#000" textLength="6.50" lengthAdjust="spacingAndGlyphs">)</text>
<text x="15.50" y="268.70" font-size="17.67" text-anchor="middle" fill="#000" textLength="28.29" lengthAdjust="spacingAndGlyphs" transform="rotate(-90 15.50 268.70)">A R</text>
<text x="33.70" y="268.20" font-size="17.67" text-anchor="middle" fill="#000" textLength="93.44" lengthAdjust="spacingAndGlyphs" transform="rotate(-90 33.70 268.20)">(Arb. units)</text>
<text x="18.80" y="208.90" font-size="17.50" text-anchor="start" fill="#000" textLength="20.50" lengthAdjust="spacingAndGlyphs">(b)</text>
<rect x="452.0" y="36.7" width="189.80" height="287.20" fill="url(#bg)"/>
<rect x="458.6" y="80.7" width="4.4" height="4.4" fill="none" stroke="#0000f0" stroke-width="1.3"/>
<rect x="458.7" y="82.0" width="4.4" height="4.4" fill="none" stroke="#0000f0" stroke-width="1.3"/>
<rect x="459.1" y="83.7" width="4.4" height="4.4" fill="none" stroke="#0000f0" stroke-width="1.3"/>
<rect x="459.6" y="85.8" width="4.4" height="4.4" fill="none" stroke="#0000f0" stroke-width="1.3"/>
<rect x="459.7" y="87.3" width="4.4" height="4.4" fill="none" stroke="#0000f0" stroke-width="1.3"/>
<rect x="460.4" y="89.8" width="4.4" height="4.4" fill="none" stroke="#0000f0" stroke-width="1.3"/>
<rect x="460.7" y="90.8" width="4.4" height="4.4" fill="none" stroke="#0000f0" stroke-width="1.3"/>
<rect x="461.2" y="93.2" width="4.4" height="4.4" fill="none" stroke="#0000f0" stroke-width="1.3"/>
<rect x="461.5" y="94.8" width="4.4" height="4.4" fill="none" stroke="#0000f0" stroke-width="1.3"/>
<rect x="461.5" y="96.5" width="4.4" height="4.4" fill="none" stroke="#0000f0" stroke-width="1.3"/>
<rect x="461.5" y="98.4" width="4.4" height="4.4" fill="none" stroke="#0000f0" stroke-width="1.3"/>
<rect x="462.8" y="100.1" width="4.4" height="4.4" fill="none" stroke="#0000f0" stroke-width="1.3"/>
<rect x="463.2" y="102.0" width="4.4" height="4.4" fill="none" stroke="#0000f0" stroke-width="1.3"/>
<rect x="463.0" y="103.2" width="4.4" height="4.4" fill="none" stroke="#0000f0" stroke-width="1.3"/>
<rect x="463.7" y="105.5" width="4.4" height="4.4" fill="none" stroke="#0000f0" stroke-width="1.3"/>
<rect x="462.9" y="107.7" width="4.4" height="4.4" fill="none" stroke="#0000f0" stroke-width="1.3"/>
<rect x="464.4" y="109.4" width="4.4" height="4.4" fill="none" stroke="#0000f0" stroke-width="1.3"/>
<rect x="464.9" y="110.7" width="4.4" height="4.4" fill="none" stroke="#0000f0" stroke-width="1.3"/>
<rect x="464.7" y="112.3" width="4.4" height="4.4" fill="none" stroke="#0000f0" stroke-width="1.3"/>
<rect x="465.4" y="114.2" width="4.4" height="4.4" fill="none" stroke="#0000f0" stroke-width="1.3"/>
<rect x="466.1" y="115.9" width="4.4" height="4.4" fill="none" stroke="#0000f0" stroke-width="1.3"/>
<rect x="465.9" y="118.3" width="4.4" height="4.4" fill="none" stroke="#0000f0" stroke-width="1.3"/>
<rect x="466.0" y="119.6" width="4.4" height="4.4" fill="none" stroke="#0000f0" stroke-width="1.3"/>
<rect x="465.8" y="121.8" width="4.4" height="4.4" fill="none" stroke="#0000f0" stroke-width="1.3"/>
<rect x="467.0" y="123.7" width="4.4" height="4.4" fill="none" stroke="#0000f0" stroke-width="1.3"/>
<rect x="466.7" y="125.5" width="4.4" height="4.4" fill="none" stroke="#0000f0" stroke-width="1.3"/>
<rect x="467.5" y="127.0" width="4.4" height="4.4" fill="none" stroke="#0000f0" stroke-width="1.3"/>
<rect x="467.7" y="128.5" width="4.4" height="4.4" fill="none" stroke="#0000f0" stroke-width="1.3"/>
<rect x="467.8" y="130.7" width="4.4" height="4.4" fill="none" stroke="#0000f0" stroke-width="1.3"/>
<rect x="468.1" y="132.2" width="4.4" height="4.4" fill="none" stroke="#0000f0" stroke-width="1.3"/>
<rect x="468.6" y="134.1" width="4.4" height="4.4" fill="none" stroke="#0000f0" stroke-width="1.3"/>
<rect x="469.4" y="135.5" width="4.4" height="4.4" fill="none" stroke="#0000f0" stroke-width="1.3"/>
<rect x="469.3" y="137.4" width="4.4" height="4.4" fill="none" stroke="#0000f0" stroke-width="1.3"/>
<rect x="469.5" y="139.1" width="4.4" height="4.4" fill="none" stroke="#0000f0" stroke-width="1.3"/>
<rect x="469.2" y="141.0" width="4.4" height="4.4" fill="none" stroke="#0000f0" stroke-width="1.3"/>
<rect x="469.6" y="143.3" width="4.4" height="4.4" fill="none" stroke="#0000f0" stroke-width="1.3"/>
<rect x="469.9" y="144.5" width="4.4" height="4.4" fill="none" stroke="#0000f0" stroke-width="1.3"/>
<rect x="470.9" y="146.3" width="4.4" height="4.4" fill="none" stroke="#0000f0" stroke-width="1.3"/>
<rect x="471.6" y="148.1" width="4.4" height="4.4" fill="none" stroke="#0000f0" stroke-width="1.3"/>
<rect x="470.8" y="150.3" width="4.4" height="4.4" fill="none" stroke="#0000f0" stroke-width="1.3"/>
<rect x="471.6" y="152.6" width="4.4" height="4.4" fill="none" stroke="#0000f0" stroke-width="1.3"/>
<rect x="471.7" y="153.4" width="4.4" height="4.4" fill="none" stroke="#0000f0" stroke-width="1.3"/>
<rect x="472.4" y="155.0" width="4.4" height="4.4" fill="none" stroke="#0000f0" stroke-width="1.3"/>
<rect x="473.0" y="157.5" width="4.4" height="4.4" fill="none" stroke="#0000f0" stroke-width="1.3"/>
<rect x="473.7" y="159.0" width="4.4" height="4.4" fill="none" stroke="#0000f0" stroke-width="1.3"/>
<rect x="473.3" y="161.1" width="4.4" height="4.4" fill="none" stroke="#0000f0" stroke-width="1.3"/>
<rect x="474.2" y="162.4" width="4.4" height="4.4" fill="none" stroke="#0000f0" stroke-width="1.3"/>
<rect x="473.8" y="164.0" width="4.4" height="4.4" fill="none" stroke="#0000f0" stroke-width="1.3"/>
<rect x="474.4" y="166.0" width="4.4" height="4.4" fill="none" stroke="#0000f0" stroke-width="1.3"/>
<rect x="475.0" y="168.1" width="4.4" height="4.4" fill="none" stroke="#0000f0" stroke-width="1.3"/>
<rect x="474.6" y="169.7" width="4.4" height="4.4" fill="none" stroke="#0000f0" stroke-width="1.3"/>
<rect x="475.5" y="171.3" width="4.4" height="4.4" fill="none" stroke="#0000f0" stroke-width="1.3"/>
<rect x="475.7" y="173.6" width="4.4" height="4.4" fill="none" stroke="#0000f0" stroke-width="1.3"/>
<rect x="476.0" y="174.9" width="4.4" height="4.4" fill="none" stroke="#0000f0" stroke-width="1.3"/>
<rect x="476.2" y="176.8" width="4.4" height="4.4" fill="none" stroke="#0000f0" stroke-width="1.3"/>
<rect x="476.4" y="178.7" width="4.4" height="4.4" fill="none" stroke="#0000f0" stroke-width="1.3"/>
<rect x="476.5" y="180.1" width="4.4" height="4.4" fill="none" stroke="#0000f0" stroke-width="1.3"/>
<rect x="477.4" y="182.5" width="4.4" height="4.4" fill="none" stroke="#0000f0" stroke-width="1.3"/>
<rect x="477.4" y="183.9" width="4.4" height="4.4" fill="none" stroke="#0000f0" stroke-width="1.3"/>
<rect x="478.2" y="185.5" width="4.4" height="4.4" fill="none" stroke="#0000f0" stroke-width="1.3"/>
<rect x="478.4" y="187.5" width="4.4" height="4.4" fill="none" stroke="#0000f0" stroke-width="1.3"/>
<rect x="478.1" y="188.7" width="4.4" height="4.4" fill="none" stroke="#0000f0" stroke-width="1.3"/>
<rect x="479.0" y="190.7" width="4.4" height="4.4" fill="none" stroke="#0000f0" stroke-width="1.3"/>
<rect x="479.2" y="192.8" width="4.4" height="4.4" fill="none" stroke="#0000f0" stroke-width="1.3"/>
<rect x="479.2" y="194.2" width="4.4" height="4.4" fill="none" stroke="#0000f0" stroke-width="1.3"/>
<rect x="479.5" y="196.7" width="4.4" height="4.4" fill="none" stroke="#0000f0" stroke-width="1.3"/>
<rect x="479.3" y="198.3" width="4.4" height="4.4" fill="none" stroke="#0000f0" stroke-width="1.3"/>
<rect x="480.5" y="199.7" width="4.4" height="4.4" fill="none" stroke="#0000f0" stroke-width="1.3"/>
<rect x="481.0" y="201.6" width="4.4" height="4.4" fill="none" stroke="#0000f0" stroke-width="1.3"/>
<rect x="480.8" y="203.4" width="4.4" height="4.4" fill="none" stroke="#0000f0" stroke-width="1.3"/>
<rect x="481.5" y="205.3" width="4.4" height="4.4" fill="none" stroke="#0000f0" stroke-width="1.3"/>
<rect x="481.8" y="207.0" width="4.4" height="4.4" fill="none" stroke="#0000f0" stroke-width="1.3"/>
<rect x="481.3" y="208.6" width="4.4" height="4.4" fill="none" stroke="#0000f0" stroke-width="1.3"/>
<rect x="482.7" y="210.7" width="4.4" height="4.4" fill="none" stroke="#0000f0" stroke-width="1.3"/>
<rect x="482.4" y="212.1" width="4.4" height="4.4" fill="none" stroke="#0000f0" stroke-width="1.3"/>
<rect x="482.7" y="213.7" width="4.4" height="4.4" fill="none" stroke="#0000f0" stroke-width="1.3"/>
<rect x="483.6" y="216.2" width="4.4" height="4.4" fill="none" stroke="#0000f0" stroke-width="1.3"/>
<rect x="483.7" y="217.8" width="4.4" height="4.4" fill="none" stroke="#0000f0" stroke-width="1.3"/>
<rect x="484.7" y="219.2" width="4.4" height="4.4" fill="none" stroke="#0000f0" stroke-width="1.3"/>
<rect x="484.4" y="221.3" width="4.4" height="4.4" fill="none" stroke="#0000f0" stroke-width="1.3"/>
<rect x="485.1" y="222.7" width="4.4" height="4.4" fill="none" stroke="#0000f0" stroke-width="1.3"/>
<rect x="484.4" y="225.0" width="4.4" height="4.4" fill="none" stroke="#0000f0" stroke-width="1.3"/>
<rect x="485.1" y="226.7" width="4.4" height="4.4" fill="none" stroke="#0000f0" stroke-width="1.3"/>
<rect x="486.0" y="228.6" width="4.4" height="4.4" fill="none" stroke="#0000f0" stroke-width="1.3"/>
<rect x="486.4" y="230.3" width="4.4" height="4.4" fill="none" stroke="#0000f0" stroke-width="1.3"/>
<rect x="486.4" y="231.5" width="4.4" height="4.4" fill="none" stroke="#0000f0" stroke-width="1.3"/>
<rect x="487.1" y="233.4" width="4.4" height="4.4" fill="none" stroke="#0000f0" stroke-width="1.3"/>
<rect x="487.0" y="235.9" width="4.4" height="4.4" fill="none" stroke="#0000f0" stroke-width="1.3"/>
<rect x="486.7" y="237.5" width="4.4" height="4.4" fill="none" stroke="#0000f0" stroke-width="1.3"/>
<rect x="487.4" y="239.1" width="4.4" height="4.4" fill="none" stroke="#0000f0" stroke-width="1.3"/>
<rect x="487.4" y="240.3" width="4.4" height="4.4" fill="none" stroke="#0000f0" stroke-width="1.3"/>
<rect x="488.5" y="243.3" width="4.4" height="4.4" fill="none" stroke="#0000f0" stroke-width="1.3"/>
<rect x="489.0" y="244.5" width="4.4" height="4.4" fill="none" stroke="#0000f0" stroke-width="1.3"/>
<rect x="489.1" y="246.7" width="4.4" height="4.4" fill="none" stroke="#0000f0" stroke-width="1.3"/>
<rect x="490.0" y="247.9" width="4.4" height="4.4" fill="none" stroke="#0000f0" stroke-width="1.3"/>
<rect x="489.3" y="250.4" width="4.4" height="4.4" fill="none" stroke="#0000f0" stroke-width="1.3"/>
<rect x="489.8" y="251.8" width="4.4" height="4.4" fill="none" stroke="#0000f0" stroke-width="1.3"/>
<rect x="490.8" y="253.2" width="4.4" height="4.4" fill="none" stroke="#0000f0" stroke-width="1.3"/>
<rect x="490.4" y="254.8" width="4.4" height="4.4" fill="none" stroke="#0000f0" stroke-width="1.3"/>
<rect x="491.4" y="256.9" width="4.4" height="4.4" fill="none" stroke="#0000f0" stroke-width="1.3"/>
<rect x="491.6" y="258.3" width="4.4" height="4.4" fill="none" stroke="#0000f0" stroke-width="1.3"/>
<rect x="491.9" y="260.3" width="4.4" height="4.4" fill="none" stroke="#0000f0" stroke-width="1.3"/>
<rect x="491.9" y="261.9" width="4.4" height="4.4" fill="none" stroke="#0000f0" stroke-width="1.3"/>
<rect x="492.2" y="264.3" width="4.4" height="4.4" fill="none" stroke="#0000f0" stroke-width="1.3"/>
<rect x="492.5" y="265.8" width="4.4" height="4.4" fill="none" stroke="#0000f0" stroke-width="1.3"/>
<rect x="493.1" y="267.6" width="4.4" height="4.4" fill="none" stroke="#0000f0" stroke-width="1.3"/>
<rect x="493.4" y="269.5" width="4.4" height="4.4" fill="none" stroke="#0000f0" stroke-width="1.3"/>
<rect x="493.9" y="271.1" width="4.4" height="4.4" fill="none" stroke="#0000f0" stroke-width="1.3"/>
<rect x="494.0" y="273.1" width="4.4" height="4.4" fill="none" stroke="#0000f0" stroke-width="1.3"/>
<rect x="494.8" y="274.9" width="4.4" height="4.4" fill="none" stroke="#0000f0" stroke-width="1.3"/>
<rect x="494.1" y="276.2" width="4.4" height="4.4" fill="none" stroke="#0000f0" stroke-width="1.3"/>
<rect x="494.9" y="278.2" width="4.4" height="4.4" fill="none" stroke="#0000f0" stroke-width="1.3"/>
<rect x="494.9" y="280.0" width="4.4" height="4.4" fill="none" stroke="#0000f0" stroke-width="1.3"/>
<rect x="495.8" y="281.4" width="4.4" height="4.4" fill="none" stroke="#0000f0" stroke-width="1.3"/>
<rect x="496.0" y="283.6" width="4.4" height="4.4" fill="none" stroke="#0000f0" stroke-width="1.3"/>
<rect x="496.8" y="285.0" width="4.4" height="4.4" fill="none" stroke="#0000f0" stroke-width="1.3"/>
<rect x="496.7" y="287.2" width="4.4" height="4.4" fill="none" stroke="#0000f0" stroke-width="1.3"/>
<rect x="496.9" y="289.2" width="4.4" height="4.4" fill="none" stroke="#0000f0" stroke-width="1.3"/>
<rect x="497.9" y="291.0" width="4.4" height="4.4" fill="none" stroke="#0000f0" stroke-width="1.3"/>
<rect x="497.7" y="292.2" width="4.4" height="4.4" fill="none" stroke="#0000f0" stroke-width="1.3"/>
<rect x="498.1" y="294.0" width="4.4" height="4.4" fill="none" stroke="#0000f0" stroke-width="1.3"/>
<polyline points="461.30,85.00 499.40,295.00" fill="none" stroke="#0000f0" stroke-width="2.2" stroke-linejoin="round" stroke-linecap="round" stroke-linecap="butt"/>
<rect x="476.6" y="78.9" width="4.2" height="4.2" fill="none" stroke="#0000ff" stroke-width="1.3"/>
<rect x="520.6" y="77.4" width="4.2" height="4.2" fill="none" stroke="#0000ff" stroke-width="1.3"/>
<rect x="568.5" y="75.9" width="4.2" height="4.2" fill="none" stroke="#0000ff" stroke-width="1.3"/>
<rect x="612.6" y="74.6" width="4.2" height="4.2" fill="none" stroke="#0000ff" stroke-width="1.3"/>
<rect x="510.9" y="296.4" width="4.2" height="4.2" fill="none" stroke="#0000ff" stroke-width="1.3"/>
<rect x="545.6" y="297.9" width="4.2" height="4.2" fill="none" stroke="#0000ff" stroke-width="1.3"/>
<rect x="585.0" y="299.4" width="4.2" height="4.2" fill="none" stroke="#0000ff" stroke-width="1.3"/>
<rect x="617.1" y="300.5" width="4.2" height="4.2" fill="none" stroke="#0000ff" stroke-width="1.3"/>
<rect x="630.6" y="36.7" width="4.6" height="41.0" fill="#0000ff"/>
<rect x="630.6" y="301.8" width="4.6" height="22" fill="#0000ff"/>
<polyline points="630.00,37.50 628.91,38.28 627.37,39.36 625.57,40.64 623.72,42.00 622.00,43.30 620.37,44.58 618.70,45.93 617.07,47.29 615.54,48.63 614.20,49.90 613.08,51.09 612.11,52.22 611.27,53.32 610.52,54.40 609.80,55.50 609.14,56.59 608.55,57.65 608.03,58.73 607.55,59.83 607.10,61.00 606.70,62.27 606.37,63.61 606.07,64.98 605.76,66.33 605.40,67.60 605.03,68.80 604.67,69.97 604.27,71.09 603.80,72.17 603.20,73.20 602.50,74.14 601.72,74.99 600.84,75.82 599.84,76.67 598.70,77.60 597.35,78.63 595.80,79.72 594.16,80.84 592.53,81.98 591.00,83.10 589.55,84.22 588.11,85.34 586.73,86.46 585.44,87.58 584.30,88.70 583.31,89.79 582.44,90.85 581.67,91.93 581.00,93.03 580.40,94.20 579.89,95.38 579.47,96.54 579.13,97.78 578.85,99.17 578.60,100.80 578.40,101.68 578.26,101.74 578.17,102.49 578.09,105.41 578.00,112.00 577.91,123.05 577.83,137.57 577.75,154.37 577.68,172.24 577.60,190.00 577.52,209.32 577.45,231.00 577.37,252.52 577.29,271.36 577.20,285.00 577.11,292.09 577.02,294.30 576.92,293.68 576.79,292.23 576.60,292.00 576.36,292.95 576.07,293.74 575.75,294.40 575.39,294.97 575.00,295.50 574.53,295.98 573.98,296.39 573.43,296.73 572.94,297.00 572.60,297.20" fill="none" stroke="#ff1a00" stroke-width="3.5" stroke-linejoin="round" stroke-linecap="round"/>
<circle cx="568.8" cy="298.3" r="1.75" fill="#ff1a00"/>
<circle cx="561.3" cy="299.6" r="1.75" fill="#ff1a00"/>
<circle cx="548.8" cy="300.5" r="1.75" fill="#ff1a00"/>
<circle cx="534.3" cy="302.0" r="1.75" fill="#ff1a00"/>
<circle cx="518.2" cy="303.2" r="1.75" fill="#ff1a00"/>
<circle cx="503.8" cy="304.5" r="1.75" fill="#ff1a00"/>
<circle cx="493.1" cy="305.6" r="1.75" fill="#ff1a00"/>
<circle cx="486.6" cy="306.8" r="1.75" fill="#ff1a00"/>
<polyline points="483.40,307.90 483.01,308.14 482.44,308.47 481.82,308.92 481.30,309.50 480.89,310.23 480.53,311.09 480.20,312.06 479.90,313.10 479.63,314.21 479.38,315.40 479.17,316.67 479.00,318.00 478.88,319.56 478.79,321.31 478.74,322.90 478.70,324.00" fill="none" stroke="#ff1a00" stroke-width="3.5" stroke-linejoin="round" stroke-linecap="round"/>
<rect x="452.0" y="36.7" width="189.80" height="287.20" fill="none" stroke="#000" stroke-width="2"/>
<line x1="489.50" y1="37.70" x2="489.50" y2="40.20" stroke="#0000ff" stroke-width="1.3"/>
<text x="489.50" y="29.10" font-size="14.72" text-anchor="middle" fill="#0000ff" textLength="17.67" lengthAdjust="spacingAndGlyphs">20</text>
<line x1="561.50" y1="37.70" x2="561.50" y2="40.20" stroke="#0000ff" stroke-width="1.3"/>
<text x="561.50" y="29.10" font-size="14.72" text-anchor="middle" fill="#0000ff" textLength="17.67" lengthAdjust="spacingAndGlyphs">10</text>
<line x1="633.20" y1="37.70" x2="633.20" y2="40.20" stroke="#0000ff" stroke-width="1.3"/>
<text x="633.20" y="29.10" font-size="14.72" text-anchor="middle" fill="#0000ff" textLength="8.83" lengthAdjust="spacingAndGlyphs">0</text>
<line x1="502.70" y1="322.90" x2="502.70" y2="320.10" stroke="#ff0000" stroke-width="1.3"/>
<text x="502.70" y="339.00" font-size="14.72" text-anchor="middle" fill="#ff0000" textLength="8.83" lengthAdjust="spacingAndGlyphs">4</text>
<line x1="570.10" y1="322.90" x2="570.10" y2="320.10" stroke="#ff0000" stroke-width="1.3"/>
<text x="570.10" y="339.00" font-size="14.72" text-anchor="middle" fill="#ff0000" textLength="8.83" lengthAdjust="spacingAndGlyphs">2</text>
<line x1="637.60" y1="322.90" x2="637.60" y2="320.10" stroke="#ff0000" stroke-width="1.3"/>
<text x="637.60" y="339.00" font-size="14.72" text-anchor="middle" fill="#ff0000" textLength="8.83" lengthAdjust="spacingAndGlyphs">0</text>
<line x1="453.00" y1="268.60" x2="455.50" y2="268.60" stroke="#000" stroke-width="1.2"/>
<line x1="640.80" y1="268.60" x2="638.30" y2="268.60" stroke="#000" stroke-width="1.2"/>
<text x="645.70" y="274.20" font-size="14.72" text-anchor="start" fill="#000" textLength="17.67" lengthAdjust="spacingAndGlyphs">10</text>
<line x1="453.00" y1="207.60" x2="455.50" y2="207.60" stroke="#000" stroke-width="1.2"/>
<line x1="640.80" y1="207.60" x2="638.30" y2="207.60" stroke="#000" stroke-width="1.2"/>
<text x="645.70" y="213.20" font-size="14.72" text-anchor="start" fill="#000" textLength="17.67" lengthAdjust="spacingAndGlyphs">20</text>
<line x1="453.00" y1="146.60" x2="455.50" y2="146.60" stroke="#000" stroke-width="1.2"/>
<line x1="640.80" y1="146.60" x2="638.30" y2="146.60" stroke="#000" stroke-width="1.2"/>
<text x="645.70" y="152.20" font-size="14.72" text-anchor="start" fill="#000" textLength="17.67" lengthAdjust="spacingAndGlyphs">30</text>
<line x1="453.00" y1="85.60" x2="455.50" y2="85.60" stroke="#000" stroke-width="1.2"/>
<line x1="640.80" y1="85.60" x2="638.30" y2="85.60" stroke="#000" stroke-width="1.2"/>
<text x="645.70" y="91.20" font-size="14.72" text-anchor="start" fill="#000" textLength="17.67" lengthAdjust="spacingAndGlyphs">40</text>
<text x="452.00" y="14.30" font-size="17.67" text-anchor="start" fill="#0000ff" textLength="189.10" lengthAdjust="spacingAndGlyphs">Gd Composition (at.%)</text>
<text x="546.50" y="359.80" font-size="17.67" text-anchor="middle" fill="#ff0000" textLength="120.51" lengthAdjust="spacingAndGlyphs">Structural SLD</text>
<text x="681.30" y="180.00" font-size="17.67" text-anchor="middle" fill="#000" textLength="127.51" lengthAdjust="spacingAndGlyphs" transform="rotate(-90 681.30 180.00)">Thickness (nm)</text>
<text x="415.40" y="26.70" font-size="17.50" text-anchor="start" fill="#000" textLength="19.30" lengthAdjust="spacingAndGlyphs">(c)</text>
<text x="532.30" y="64.60" font-size="16.22" text-anchor="middle" fill="#000" textLength="14.72" lengthAdjust="spacingAndGlyphs">Al</text>
<text x="530.00" y="191.30" font-size="16.22" text-anchor="middle" fill="#000" textLength="58.98" lengthAdjust="spacingAndGlyphs">GdCoFe</text>
<text x="549.60" y="318.70" font-size="16.22" text-anchor="middle" fill="#000" textLength="15.22" lengthAdjust="spacingAndGlyphs">Pt</text>
</svg></body></html>
